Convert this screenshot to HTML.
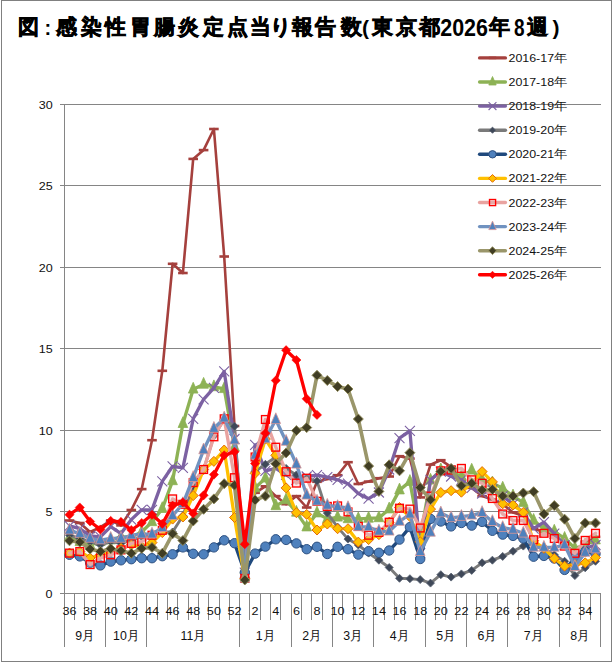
<!DOCTYPE html><html><head><meta charset="utf-8"><style>html,body{margin:0;padding:0;background:#fff;width:612px;height:662px;overflow:hidden}svg{display:block}text{font-family:"Liberation Sans",sans-serif}</style></head><body>
<svg width="612" height="662" viewBox="0 0 612 662">
<rect x="0" y="0" width="612" height="662" fill="#fff"/>
<rect x="1.5" y="0.5" width="610" height="661" fill="none" stroke="#808080" stroke-width="1"/>
<text x="28.0" y="34.3" font-size="20.5" font-weight="bold" text-anchor="middle" fill="#000" stroke="#000" stroke-width="0.7">図</text>
<text x="47.8" y="34.6" font-size="20" font-weight="bold" text-anchor="middle" fill="#000">:</text>
<text x="66.5" y="34.3" font-size="20.5" font-weight="bold" text-anchor="middle" fill="#000" stroke="#000" stroke-width="0.7">感</text>
<text x="91.4" y="34.3" font-size="20.5" font-weight="bold" text-anchor="middle" fill="#000" stroke="#000" stroke-width="0.7">染</text>
<text x="115.3" y="34.3" font-size="20.5" font-weight="bold" text-anchor="middle" fill="#000" stroke="#000" stroke-width="0.7">性</text>
<text x="140.4" y="34.3" font-size="20.5" font-weight="bold" text-anchor="middle" fill="#000" stroke="#000" stroke-width="0.7">胃</text>
<text x="164.6" y="34.3" font-size="20.5" font-weight="bold" text-anchor="middle" fill="#000" stroke="#000" stroke-width="0.7">腸</text>
<text x="188.4" y="34.3" font-size="20.5" font-weight="bold" text-anchor="middle" fill="#000" stroke="#000" stroke-width="0.7">炎</text>
<text x="213.0" y="34.3" font-size="20.5" font-weight="bold" text-anchor="middle" fill="#000" stroke="#000" stroke-width="0.7">定</text>
<text x="237.5" y="34.3" font-size="20.5" font-weight="bold" text-anchor="middle" fill="#000" stroke="#000" stroke-width="0.7">点</text>
<text x="260.4" y="34.3" font-size="20.5" font-weight="bold" text-anchor="middle" fill="#000" stroke="#000" stroke-width="0.7">当</text>
<text x="280.6" y="34.3" font-size="20.5" font-weight="bold" text-anchor="middle" fill="#000" stroke="#000" stroke-width="0.7">り</text>
<text x="302.4" y="34.3" font-size="20.5" font-weight="bold" text-anchor="middle" fill="#000" stroke="#000" stroke-width="0.7">報</text>
<text x="325.9" y="34.3" font-size="20.5" font-weight="bold" text-anchor="middle" fill="#000" stroke="#000" stroke-width="0.7">告</text>
<text x="351.9" y="34.3" font-size="20.5" font-weight="bold" text-anchor="middle" fill="#000" stroke="#000" stroke-width="0.7">数</text>
<text x="365.5" y="34.5" font-size="21" font-weight="bold" text-anchor="middle" fill="#000">(</text>
<text x="382.3" y="34.3" font-size="20.5" font-weight="bold" text-anchor="middle" fill="#000" stroke="#000" stroke-width="0.7">東</text>
<text x="406.4" y="34.3" font-size="20.5" font-weight="bold" text-anchor="middle" fill="#000" stroke="#000" stroke-width="0.7">京</text>
<text x="429.1" y="34.3" font-size="20.5" font-weight="bold" text-anchor="middle" fill="#000" stroke="#000" stroke-width="0.7">都</text>
<text x="464.1" y="35.6" font-size="24" font-weight="bold" text-anchor="middle" textLength="47.7" lengthAdjust="spacingAndGlyphs" fill="#000">2026</text>
<text x="499.0" y="34.3" font-size="20.5" font-weight="bold" text-anchor="middle" fill="#000" stroke="#000" stroke-width="0.7">年</text>
<text x="519.2" y="35.6" font-size="24" font-weight="bold" text-anchor="middle" textLength="10.6" lengthAdjust="spacingAndGlyphs" fill="#000">8</text>
<text x="537.5" y="34.3" font-size="20.5" font-weight="bold" text-anchor="middle" fill="#000" stroke="#000" stroke-width="0.7">週</text>
<text x="555.9" y="34.5" font-size="21" font-weight="bold" text-anchor="middle" fill="#000">)</text>
<line x1="64.0" y1="511.5" x2="601.0" y2="511.5" stroke="#858585" stroke-width="1"/>
<line x1="64.0" y1="430.5" x2="601.0" y2="430.5" stroke="#858585" stroke-width="1"/>
<line x1="64.0" y1="348.5" x2="601.0" y2="348.5" stroke="#858585" stroke-width="1"/>
<line x1="64.0" y1="267.5" x2="601.0" y2="267.5" stroke="#858585" stroke-width="1"/>
<line x1="64.0" y1="185.5" x2="601.0" y2="185.5" stroke="#858585" stroke-width="1"/>
<line x1="64.0" y1="104.5" x2="601.0" y2="104.5" stroke="#858585" stroke-width="1"/>
<line x1="64.5" y1="104.5" x2="64.5" y2="594.0" stroke="#858585" stroke-width="1"/>
<line x1="60" y1="593.5" x2="64.5" y2="593.5" stroke="#858585" stroke-width="1"/>
<text transform="translate(52.6,597.8) scale(1.14,1)" x="0" y="0" font-size="11" text-anchor="end" fill="#111">0</text>
<line x1="60" y1="511.5" x2="64.5" y2="511.5" stroke="#858585" stroke-width="1"/>
<text transform="translate(52.6,515.8) scale(1.14,1)" x="0" y="0" font-size="11" text-anchor="end" fill="#111">5</text>
<line x1="60" y1="430.5" x2="64.5" y2="430.5" stroke="#858585" stroke-width="1"/>
<text transform="translate(52.6,434.8) scale(1.14,1)" x="0" y="0" font-size="11" text-anchor="end" fill="#111">10</text>
<line x1="60" y1="348.5" x2="64.5" y2="348.5" stroke="#858585" stroke-width="1"/>
<text transform="translate(52.6,352.8) scale(1.14,1)" x="0" y="0" font-size="11" text-anchor="end" fill="#111">15</text>
<line x1="60" y1="267.5" x2="64.5" y2="267.5" stroke="#858585" stroke-width="1"/>
<text transform="translate(52.6,271.8) scale(1.14,1)" x="0" y="0" font-size="11" text-anchor="end" fill="#111">20</text>
<line x1="60" y1="185.5" x2="64.5" y2="185.5" stroke="#858585" stroke-width="1"/>
<text transform="translate(52.6,189.8) scale(1.14,1)" x="0" y="0" font-size="11" text-anchor="end" fill="#111">25</text>
<line x1="60" y1="104.5" x2="64.5" y2="104.5" stroke="#858585" stroke-width="1"/>
<text transform="translate(52.6,108.8) scale(1.14,1)" x="0" y="0" font-size="11" text-anchor="end" fill="#111">30</text>
<line x1="64.0" y1="593.5" x2="601.0" y2="593.5" stroke="#858585" stroke-width="1"/>
<line x1="64.5" y1="593.5" x2="64.5" y2="647" stroke="#858585" stroke-width="1"/>
<line x1="74.5" y1="593.5" x2="74.5" y2="620" stroke="#858585" stroke-width="1"/>
<line x1="84.5" y1="593.5" x2="84.5" y2="620" stroke="#858585" stroke-width="1"/>
<line x1="95.5" y1="593.5" x2="95.5" y2="620" stroke="#858585" stroke-width="1"/>
<line x1="105.5" y1="593.5" x2="105.5" y2="647" stroke="#858585" stroke-width="1"/>
<line x1="115.5" y1="593.5" x2="115.5" y2="620" stroke="#858585" stroke-width="1"/>
<line x1="126.5" y1="593.5" x2="126.5" y2="620" stroke="#858585" stroke-width="1"/>
<line x1="136.5" y1="593.5" x2="136.5" y2="620" stroke="#858585" stroke-width="1"/>
<line x1="146.5" y1="593.5" x2="146.5" y2="647" stroke="#858585" stroke-width="1"/>
<line x1="157.5" y1="593.5" x2="157.5" y2="620" stroke="#858585" stroke-width="1"/>
<line x1="167.5" y1="593.5" x2="167.5" y2="620" stroke="#858585" stroke-width="1"/>
<line x1="177.5" y1="593.5" x2="177.5" y2="620" stroke="#858585" stroke-width="1"/>
<line x1="188.5" y1="593.5" x2="188.5" y2="620" stroke="#858585" stroke-width="1"/>
<line x1="198.5" y1="593.5" x2="198.5" y2="620" stroke="#858585" stroke-width="1"/>
<line x1="208.5" y1="593.5" x2="208.5" y2="620" stroke="#858585" stroke-width="1"/>
<line x1="219.5" y1="593.5" x2="219.5" y2="620" stroke="#858585" stroke-width="1"/>
<line x1="229.5" y1="593.5" x2="229.5" y2="620" stroke="#858585" stroke-width="1"/>
<line x1="239.5" y1="593.5" x2="239.5" y2="647" stroke="#858585" stroke-width="1"/>
<line x1="249.5" y1="593.5" x2="249.5" y2="620" stroke="#858585" stroke-width="1"/>
<line x1="260.5" y1="593.5" x2="260.5" y2="620" stroke="#858585" stroke-width="1"/>
<line x1="270.5" y1="593.5" x2="270.5" y2="620" stroke="#858585" stroke-width="1"/>
<line x1="280.5" y1="593.5" x2="280.5" y2="620" stroke="#858585" stroke-width="1"/>
<line x1="291.5" y1="593.5" x2="291.5" y2="647" stroke="#858585" stroke-width="1"/>
<line x1="301.5" y1="593.5" x2="301.5" y2="620" stroke="#858585" stroke-width="1"/>
<line x1="311.5" y1="593.5" x2="311.5" y2="620" stroke="#858585" stroke-width="1"/>
<line x1="322.5" y1="593.5" x2="322.5" y2="620" stroke="#858585" stroke-width="1"/>
<line x1="332.5" y1="593.5" x2="332.5" y2="647" stroke="#858585" stroke-width="1"/>
<line x1="342.5" y1="593.5" x2="342.5" y2="620" stroke="#858585" stroke-width="1"/>
<line x1="353.5" y1="593.5" x2="353.5" y2="620" stroke="#858585" stroke-width="1"/>
<line x1="363.5" y1="593.5" x2="363.5" y2="620" stroke="#858585" stroke-width="1"/>
<line x1="373.5" y1="593.5" x2="373.5" y2="647" stroke="#858585" stroke-width="1"/>
<line x1="384.5" y1="593.5" x2="384.5" y2="620" stroke="#858585" stroke-width="1"/>
<line x1="394.5" y1="593.5" x2="394.5" y2="620" stroke="#858585" stroke-width="1"/>
<line x1="404.5" y1="593.5" x2="404.5" y2="620" stroke="#858585" stroke-width="1"/>
<line x1="415.5" y1="593.5" x2="415.5" y2="620" stroke="#858585" stroke-width="1"/>
<line x1="425.5" y1="593.5" x2="425.5" y2="647" stroke="#858585" stroke-width="1"/>
<line x1="435.5" y1="593.5" x2="435.5" y2="620" stroke="#858585" stroke-width="1"/>
<line x1="445.5" y1="593.5" x2="445.5" y2="620" stroke="#858585" stroke-width="1"/>
<line x1="456.5" y1="593.5" x2="456.5" y2="620" stroke="#858585" stroke-width="1"/>
<line x1="466.5" y1="593.5" x2="466.5" y2="647" stroke="#858585" stroke-width="1"/>
<line x1="476.5" y1="593.5" x2="476.5" y2="620" stroke="#858585" stroke-width="1"/>
<line x1="487.5" y1="593.5" x2="487.5" y2="620" stroke="#858585" stroke-width="1"/>
<line x1="497.5" y1="593.5" x2="497.5" y2="620" stroke="#858585" stroke-width="1"/>
<line x1="507.5" y1="593.5" x2="507.5" y2="647" stroke="#858585" stroke-width="1"/>
<line x1="518.5" y1="593.5" x2="518.5" y2="620" stroke="#858585" stroke-width="1"/>
<line x1="528.5" y1="593.5" x2="528.5" y2="620" stroke="#858585" stroke-width="1"/>
<line x1="538.5" y1="593.5" x2="538.5" y2="620" stroke="#858585" stroke-width="1"/>
<line x1="549.5" y1="593.5" x2="549.5" y2="620" stroke="#858585" stroke-width="1"/>
<line x1="559.5" y1="593.5" x2="559.5" y2="647" stroke="#858585" stroke-width="1"/>
<line x1="569.5" y1="593.5" x2="569.5" y2="620" stroke="#858585" stroke-width="1"/>
<line x1="580.5" y1="593.5" x2="580.5" y2="620" stroke="#858585" stroke-width="1"/>
<line x1="590.5" y1="593.5" x2="590.5" y2="620" stroke="#858585" stroke-width="1"/>
<line x1="600.5" y1="593.5" x2="600.5" y2="647" stroke="#858585" stroke-width="1"/>
<text transform="translate(69.5,615.0) scale(1.12,1)" x="0" y="0" font-size="11.3" text-anchor="middle" fill="#111">36</text>
<text transform="translate(90.1,615.0) scale(1.12,1)" x="0" y="0" font-size="11.3" text-anchor="middle" fill="#111">38</text>
<text transform="translate(110.7,615.0) scale(1.12,1)" x="0" y="0" font-size="11.3" text-anchor="middle" fill="#111">40</text>
<text transform="translate(131.3,615.0) scale(1.12,1)" x="0" y="0" font-size="11.3" text-anchor="middle" fill="#111">42</text>
<text transform="translate(152.0,615.0) scale(1.12,1)" x="0" y="0" font-size="11.3" text-anchor="middle" fill="#111">44</text>
<text transform="translate(172.6,615.0) scale(1.12,1)" x="0" y="0" font-size="11.3" text-anchor="middle" fill="#111">46</text>
<text transform="translate(193.2,615.0) scale(1.12,1)" x="0" y="0" font-size="11.3" text-anchor="middle" fill="#111">48</text>
<text transform="translate(213.9,615.0) scale(1.12,1)" x="0" y="0" font-size="11.3" text-anchor="middle" fill="#111">50</text>
<text transform="translate(234.5,615.0) scale(1.12,1)" x="0" y="0" font-size="11.3" text-anchor="middle" fill="#111">52</text>
<text transform="translate(255.1,615.0) scale(1.12,1)" x="0" y="0" font-size="11.3" text-anchor="middle" fill="#111">2</text>
<text transform="translate(275.8,615.0) scale(1.12,1)" x="0" y="0" font-size="11.3" text-anchor="middle" fill="#111">4</text>
<text transform="translate(296.4,615.0) scale(1.12,1)" x="0" y="0" font-size="11.3" text-anchor="middle" fill="#111">6</text>
<text transform="translate(317.0,615.0) scale(1.12,1)" x="0" y="0" font-size="11.3" text-anchor="middle" fill="#111">8</text>
<text transform="translate(337.6,615.0) scale(1.12,1)" x="0" y="0" font-size="11.3" text-anchor="middle" fill="#111">10</text>
<text transform="translate(358.3,615.0) scale(1.12,1)" x="0" y="0" font-size="11.3" text-anchor="middle" fill="#111">12</text>
<text transform="translate(378.9,615.0) scale(1.12,1)" x="0" y="0" font-size="11.3" text-anchor="middle" fill="#111">14</text>
<text transform="translate(399.5,615.0) scale(1.12,1)" x="0" y="0" font-size="11.3" text-anchor="middle" fill="#111">16</text>
<text transform="translate(420.2,615.0) scale(1.12,1)" x="0" y="0" font-size="11.3" text-anchor="middle" fill="#111">18</text>
<text transform="translate(440.8,615.0) scale(1.12,1)" x="0" y="0" font-size="11.3" text-anchor="middle" fill="#111">20</text>
<text transform="translate(461.4,615.0) scale(1.12,1)" x="0" y="0" font-size="11.3" text-anchor="middle" fill="#111">22</text>
<text transform="translate(482.1,615.0) scale(1.12,1)" x="0" y="0" font-size="11.3" text-anchor="middle" fill="#111">24</text>
<text transform="translate(502.7,615.0) scale(1.12,1)" x="0" y="0" font-size="11.3" text-anchor="middle" fill="#111">26</text>
<text transform="translate(523.3,615.0) scale(1.12,1)" x="0" y="0" font-size="11.3" text-anchor="middle" fill="#111">28</text>
<text transform="translate(543.9,615.0) scale(1.12,1)" x="0" y="0" font-size="11.3" text-anchor="middle" fill="#111">30</text>
<text transform="translate(564.6,615.0) scale(1.12,1)" x="0" y="0" font-size="11.3" text-anchor="middle" fill="#111">32</text>
<text transform="translate(585.2,615.0) scale(1.12,1)" x="0" y="0" font-size="11.3" text-anchor="middle" fill="#111">34</text>
<text transform="translate(84.9,640.2) scale(0.95,1)" x="0" y="0" font-size="13" text-anchor="middle" fill="#111">9月</text>
<text transform="translate(126.2,640.2) scale(0.95,1)" x="0" y="0" font-size="13" text-anchor="middle" fill="#111">10月</text>
<text transform="translate(193.2,640.2) scale(0.95,1)" x="0" y="0" font-size="13" text-anchor="middle" fill="#111">11月</text>
<text transform="translate(265.4,640.2) scale(0.95,1)" x="0" y="0" font-size="13" text-anchor="middle" fill="#111">1月</text>
<text transform="translate(311.9,640.2) scale(0.95,1)" x="0" y="0" font-size="13" text-anchor="middle" fill="#111">2月</text>
<text transform="translate(353.1,640.2) scale(0.95,1)" x="0" y="0" font-size="13" text-anchor="middle" fill="#111">3月</text>
<text transform="translate(399.5,640.2) scale(0.95,1)" x="0" y="0" font-size="13" text-anchor="middle" fill="#111">4月</text>
<text transform="translate(446.0,640.2) scale(0.95,1)" x="0" y="0" font-size="13" text-anchor="middle" fill="#111">5月</text>
<text transform="translate(487.2,640.2) scale(0.95,1)" x="0" y="0" font-size="13" text-anchor="middle" fill="#111">6月</text>
<text transform="translate(533.6,640.2) scale(0.95,1)" x="0" y="0" font-size="13" text-anchor="middle" fill="#111">7月</text>
<text transform="translate(580.0,640.2) scale(0.95,1)" x="0" y="0" font-size="13" text-anchor="middle" fill="#111">8月</text>
<polyline points="69.5,520.5 79.8,523.0 90.1,532.0 100.4,527.1 110.7,520.5 121.0,525.4 131.3,510.0 141.7,489.1 152.0,440.2 162.3,370.8 172.6,263.8 182.9,273.0 193.2,158.9 203.6,150.1 213.9,129.0 224.2,256.5 234.5,426.0 244.8,572.7 255.1,492.8 265.4,486.3 275.8,496.1 286.1,504.2 296.4,496.1 306.7,507.5 317.0,481.8 327.3,479.0 337.6,475.2 348.0,462.2 358.3,484.0 368.6,481.6 378.9,478.2 389.2,476.5 399.5,456.2 409.9,458.6 420.2,497.4 430.5,464.6 440.8,460.2 451.1,466.8 461.4,479.8 471.7,487.9 482.1,496.1 492.4,499.4 502.7,504.2 513.0,512.4 523.3,515.7 533.6,528.7 543.9,532.0 554.3,535.2 564.6,545.0 574.9,551.5 585.2,541.7 595.5,536.9" fill="none" stroke="#A5403D" stroke-width="2.6" stroke-linejoin="round" stroke-linecap="round"/>
<line x1="64.7" y1="520.5" x2="74.3" y2="520.5" stroke="#A5403D" stroke-width="2.6"/>
<line x1="75.0" y1="523.0" x2="84.6" y2="523.0" stroke="#A5403D" stroke-width="2.6"/>
<line x1="85.3" y1="532.0" x2="94.9" y2="532.0" stroke="#A5403D" stroke-width="2.6"/>
<line x1="95.6" y1="527.1" x2="105.2" y2="527.1" stroke="#A5403D" stroke-width="2.6"/>
<line x1="105.9" y1="520.5" x2="115.5" y2="520.5" stroke="#A5403D" stroke-width="2.6"/>
<line x1="116.2" y1="525.4" x2="125.8" y2="525.4" stroke="#A5403D" stroke-width="2.6"/>
<line x1="126.5" y1="510.0" x2="136.1" y2="510.0" stroke="#A5403D" stroke-width="2.6"/>
<line x1="136.9" y1="489.1" x2="146.5" y2="489.1" stroke="#A5403D" stroke-width="2.6"/>
<line x1="147.2" y1="440.2" x2="156.8" y2="440.2" stroke="#A5403D" stroke-width="2.6"/>
<line x1="157.5" y1="370.8" x2="167.1" y2="370.8" stroke="#A5403D" stroke-width="2.6"/>
<line x1="167.8" y1="263.8" x2="177.4" y2="263.8" stroke="#A5403D" stroke-width="2.6"/>
<line x1="178.1" y1="273.0" x2="187.7" y2="273.0" stroke="#A5403D" stroke-width="2.6"/>
<line x1="188.4" y1="158.9" x2="198.0" y2="158.9" stroke="#A5403D" stroke-width="2.6"/>
<line x1="198.8" y1="150.1" x2="208.4" y2="150.1" stroke="#A5403D" stroke-width="2.6"/>
<line x1="209.1" y1="129.0" x2="218.7" y2="129.0" stroke="#A5403D" stroke-width="2.6"/>
<line x1="219.4" y1="256.5" x2="229.0" y2="256.5" stroke="#A5403D" stroke-width="2.6"/>
<line x1="229.7" y1="426.0" x2="239.3" y2="426.0" stroke="#A5403D" stroke-width="2.6"/>
<line x1="240.0" y1="572.7" x2="249.6" y2="572.7" stroke="#A5403D" stroke-width="2.6"/>
<line x1="250.3" y1="492.8" x2="259.9" y2="492.8" stroke="#A5403D" stroke-width="2.6"/>
<line x1="260.6" y1="486.3" x2="270.2" y2="486.3" stroke="#A5403D" stroke-width="2.6"/>
<line x1="271.0" y1="496.1" x2="280.6" y2="496.1" stroke="#A5403D" stroke-width="2.6"/>
<line x1="281.3" y1="504.2" x2="290.9" y2="504.2" stroke="#A5403D" stroke-width="2.6"/>
<line x1="291.6" y1="496.1" x2="301.2" y2="496.1" stroke="#A5403D" stroke-width="2.6"/>
<line x1="301.9" y1="507.5" x2="311.5" y2="507.5" stroke="#A5403D" stroke-width="2.6"/>
<line x1="312.2" y1="481.8" x2="321.8" y2="481.8" stroke="#A5403D" stroke-width="2.6"/>
<line x1="322.5" y1="479.0" x2="332.1" y2="479.0" stroke="#A5403D" stroke-width="2.6"/>
<line x1="332.8" y1="475.2" x2="342.4" y2="475.2" stroke="#A5403D" stroke-width="2.6"/>
<line x1="343.2" y1="462.2" x2="352.8" y2="462.2" stroke="#A5403D" stroke-width="2.6"/>
<line x1="353.5" y1="484.0" x2="363.1" y2="484.0" stroke="#A5403D" stroke-width="2.6"/>
<line x1="363.8" y1="481.6" x2="373.4" y2="481.6" stroke="#A5403D" stroke-width="2.6"/>
<line x1="374.1" y1="478.2" x2="383.7" y2="478.2" stroke="#A5403D" stroke-width="2.6"/>
<line x1="384.4" y1="476.5" x2="394.0" y2="476.5" stroke="#A5403D" stroke-width="2.6"/>
<line x1="394.7" y1="456.2" x2="404.3" y2="456.2" stroke="#A5403D" stroke-width="2.6"/>
<line x1="405.1" y1="458.6" x2="414.7" y2="458.6" stroke="#A5403D" stroke-width="2.6"/>
<line x1="415.4" y1="497.4" x2="425.0" y2="497.4" stroke="#A5403D" stroke-width="2.6"/>
<line x1="425.7" y1="464.6" x2="435.3" y2="464.6" stroke="#A5403D" stroke-width="2.6"/>
<line x1="436.0" y1="460.2" x2="445.6" y2="460.2" stroke="#A5403D" stroke-width="2.6"/>
<line x1="446.3" y1="466.8" x2="455.9" y2="466.8" stroke="#A5403D" stroke-width="2.6"/>
<line x1="456.6" y1="479.8" x2="466.2" y2="479.8" stroke="#A5403D" stroke-width="2.6"/>
<line x1="466.9" y1="487.9" x2="476.5" y2="487.9" stroke="#A5403D" stroke-width="2.6"/>
<line x1="477.3" y1="496.1" x2="486.9" y2="496.1" stroke="#A5403D" stroke-width="2.6"/>
<line x1="487.6" y1="499.4" x2="497.2" y2="499.4" stroke="#A5403D" stroke-width="2.6"/>
<line x1="497.9" y1="504.2" x2="507.5" y2="504.2" stroke="#A5403D" stroke-width="2.6"/>
<line x1="508.2" y1="512.4" x2="517.8" y2="512.4" stroke="#A5403D" stroke-width="2.6"/>
<line x1="518.5" y1="515.7" x2="528.1" y2="515.7" stroke="#A5403D" stroke-width="2.6"/>
<line x1="528.8" y1="528.7" x2="538.4" y2="528.7" stroke="#A5403D" stroke-width="2.6"/>
<line x1="539.1" y1="532.0" x2="548.7" y2="532.0" stroke="#A5403D" stroke-width="2.6"/>
<line x1="549.5" y1="535.2" x2="559.1" y2="535.2" stroke="#A5403D" stroke-width="2.6"/>
<line x1="559.8" y1="545.0" x2="569.4" y2="545.0" stroke="#A5403D" stroke-width="2.6"/>
<line x1="570.1" y1="551.5" x2="579.7" y2="551.5" stroke="#A5403D" stroke-width="2.6"/>
<line x1="580.4" y1="541.7" x2="590.0" y2="541.7" stroke="#A5403D" stroke-width="2.6"/>
<line x1="590.7" y1="536.9" x2="600.3" y2="536.9" stroke="#A5403D" stroke-width="2.6"/>
<polyline points="69.5,536.9 79.8,541.7 90.1,545.0 100.4,541.7 110.7,540.1 121.0,536.9 131.3,536.9 141.7,532.0 152.0,521.9 162.3,508.7 172.6,480.9 182.9,423.7 193.2,389.3 203.6,384.4 213.9,386.9 224.2,388.8 234.5,447.2 244.8,569.4 255.1,487.9 265.4,478.2 275.8,505.9 286.1,500.0 296.4,512.4 306.7,527.1 317.0,513.1 327.3,518.9 337.6,517.3 348.0,518.9 358.3,518.9 368.6,518.4 378.9,517.9 389.2,509.1 399.5,490.1 409.9,481.6 420.2,537.2 430.5,480.3 440.8,470.0 451.1,471.6 461.4,476.5 471.7,470.3 482.1,479.8 492.4,483.1 502.7,488.3 513.0,496.1 523.3,502.6 533.6,520.5 543.9,528.7 554.3,531.3 564.6,538.5 574.9,548.3 585.2,545.0 595.5,540.1" fill="none" stroke="#8DB255" stroke-width="3.3" stroke-linejoin="round" stroke-linecap="round"/>
<path d="M69.5,529.9L74.3,540.6L64.7,540.6Z" fill="#8DB255" stroke="#8DB255" stroke-width="0.8"/>
<path d="M79.8,534.7L84.6,545.5L75.0,545.5Z" fill="#8DB255" stroke="#8DB255" stroke-width="0.8"/>
<path d="M90.1,538.0L94.9,548.8L85.3,548.8Z" fill="#8DB255" stroke="#8DB255" stroke-width="0.8"/>
<path d="M100.4,534.7L105.2,545.5L95.6,545.5Z" fill="#8DB255" stroke="#8DB255" stroke-width="0.8"/>
<path d="M110.7,533.1L115.5,543.9L105.9,543.9Z" fill="#8DB255" stroke="#8DB255" stroke-width="0.8"/>
<path d="M121.0,529.9L125.8,540.6L116.2,540.6Z" fill="#8DB255" stroke="#8DB255" stroke-width="0.8"/>
<path d="M131.3,529.9L136.1,540.6L126.5,540.6Z" fill="#8DB255" stroke="#8DB255" stroke-width="0.8"/>
<path d="M141.7,525.0L146.5,535.8L136.9,535.8Z" fill="#8DB255" stroke="#8DB255" stroke-width="0.8"/>
<path d="M152.0,514.9L156.8,525.7L147.2,525.7Z" fill="#8DB255" stroke="#8DB255" stroke-width="0.8"/>
<path d="M162.3,501.7L167.1,512.5L157.5,512.5Z" fill="#8DB255" stroke="#8DB255" stroke-width="0.8"/>
<path d="M172.6,473.9L177.4,484.7L167.8,484.7Z" fill="#8DB255" stroke="#8DB255" stroke-width="0.8"/>
<path d="M182.9,416.7L187.7,427.5L178.1,427.5Z" fill="#8DB255" stroke="#8DB255" stroke-width="0.8"/>
<path d="M193.2,382.3L198.0,393.1L188.4,393.1Z" fill="#8DB255" stroke="#8DB255" stroke-width="0.8"/>
<path d="M203.6,377.4L208.4,388.2L198.8,388.2Z" fill="#8DB255" stroke="#8DB255" stroke-width="0.8"/>
<path d="M213.9,379.9L218.7,390.7L209.1,390.7Z" fill="#8DB255" stroke="#8DB255" stroke-width="0.8"/>
<path d="M224.2,381.8L229.0,392.6L219.4,392.6Z" fill="#8DB255" stroke="#8DB255" stroke-width="0.8"/>
<path d="M234.5,440.2L239.3,451.0L229.7,451.0Z" fill="#8DB255" stroke="#8DB255" stroke-width="0.8"/>
<path d="M244.8,562.4L249.6,573.2L240.0,573.2Z" fill="#8DB255" stroke="#8DB255" stroke-width="0.8"/>
<path d="M255.1,480.9L259.9,491.8L250.3,491.8Z" fill="#8DB255" stroke="#8DB255" stroke-width="0.8"/>
<path d="M265.4,471.2L270.2,482.0L260.6,482.0Z" fill="#8DB255" stroke="#8DB255" stroke-width="0.8"/>
<path d="M275.8,498.9L280.6,509.7L271.0,509.7Z" fill="#8DB255" stroke="#8DB255" stroke-width="0.8"/>
<path d="M286.1,493.0L290.9,503.8L281.3,503.8Z" fill="#8DB255" stroke="#8DB255" stroke-width="0.8"/>
<path d="M296.4,505.4L301.2,516.2L291.6,516.2Z" fill="#8DB255" stroke="#8DB255" stroke-width="0.8"/>
<path d="M306.7,520.1L311.5,530.9L301.9,530.9Z" fill="#8DB255" stroke="#8DB255" stroke-width="0.8"/>
<path d="M317.0,506.1L321.8,516.9L312.2,516.9Z" fill="#8DB255" stroke="#8DB255" stroke-width="0.8"/>
<path d="M327.3,511.9L332.1,522.7L322.5,522.7Z" fill="#8DB255" stroke="#8DB255" stroke-width="0.8"/>
<path d="M337.6,510.3L342.4,521.1L332.8,521.1Z" fill="#8DB255" stroke="#8DB255" stroke-width="0.8"/>
<path d="M348.0,511.9L352.8,522.7L343.2,522.7Z" fill="#8DB255" stroke="#8DB255" stroke-width="0.8"/>
<path d="M358.3,511.9L363.1,522.7L353.5,522.7Z" fill="#8DB255" stroke="#8DB255" stroke-width="0.8"/>
<path d="M368.6,511.4L373.4,522.2L363.8,522.2Z" fill="#8DB255" stroke="#8DB255" stroke-width="0.8"/>
<path d="M378.9,510.9L383.7,521.7L374.1,521.7Z" fill="#8DB255" stroke="#8DB255" stroke-width="0.8"/>
<path d="M389.2,502.1L394.0,512.9L384.4,512.9Z" fill="#8DB255" stroke="#8DB255" stroke-width="0.8"/>
<path d="M399.5,483.1L404.3,493.9L394.7,493.9Z" fill="#8DB255" stroke="#8DB255" stroke-width="0.8"/>
<path d="M409.9,474.6L414.7,485.4L405.1,485.4Z" fill="#8DB255" stroke="#8DB255" stroke-width="0.8"/>
<path d="M420.2,530.2L425.0,541.0L415.4,541.0Z" fill="#8DB255" stroke="#8DB255" stroke-width="0.8"/>
<path d="M430.5,473.3L435.3,484.1L425.7,484.1Z" fill="#8DB255" stroke="#8DB255" stroke-width="0.8"/>
<path d="M440.8,463.0L445.6,473.8L436.0,473.8Z" fill="#8DB255" stroke="#8DB255" stroke-width="0.8"/>
<path d="M451.1,464.6L455.9,475.4L446.3,475.4Z" fill="#8DB255" stroke="#8DB255" stroke-width="0.8"/>
<path d="M461.4,469.5L466.2,480.3L456.6,480.3Z" fill="#8DB255" stroke="#8DB255" stroke-width="0.8"/>
<path d="M471.7,463.3L476.5,474.1L466.9,474.1Z" fill="#8DB255" stroke="#8DB255" stroke-width="0.8"/>
<path d="M482.1,472.8L486.9,483.6L477.3,483.6Z" fill="#8DB255" stroke="#8DB255" stroke-width="0.8"/>
<path d="M492.4,476.1L497.2,486.9L487.6,486.9Z" fill="#8DB255" stroke="#8DB255" stroke-width="0.8"/>
<path d="M502.7,481.3L507.5,492.1L497.9,492.1Z" fill="#8DB255" stroke="#8DB255" stroke-width="0.8"/>
<path d="M513.0,489.1L517.8,499.9L508.2,499.9Z" fill="#8DB255" stroke="#8DB255" stroke-width="0.8"/>
<path d="M523.3,495.6L528.1,506.4L518.5,506.4Z" fill="#8DB255" stroke="#8DB255" stroke-width="0.8"/>
<path d="M533.6,513.5L538.4,524.3L528.8,524.3Z" fill="#8DB255" stroke="#8DB255" stroke-width="0.8"/>
<path d="M543.9,521.7L548.7,532.5L539.1,532.5Z" fill="#8DB255" stroke="#8DB255" stroke-width="0.8"/>
<path d="M554.3,524.3L559.1,535.1L549.5,535.1Z" fill="#8DB255" stroke="#8DB255" stroke-width="0.8"/>
<path d="M564.6,531.5L569.4,542.3L559.8,542.3Z" fill="#8DB255" stroke="#8DB255" stroke-width="0.8"/>
<path d="M574.9,541.3L579.7,552.1L570.1,552.1Z" fill="#8DB255" stroke="#8DB255" stroke-width="0.8"/>
<path d="M585.2,538.0L590.0,548.8L580.4,548.8Z" fill="#8DB255" stroke="#8DB255" stroke-width="0.8"/>
<path d="M595.5,533.1L600.3,543.9L590.7,543.9Z" fill="#8DB255" stroke="#8DB255" stroke-width="0.8"/>
<polyline points="69.5,525.8 79.8,528.7 90.1,536.0 100.4,536.9 110.7,526.6 121.0,533.6 131.3,519.6 141.7,509.8 152.0,509.8 162.3,481.4 172.6,466.3 182.9,467.9 193.2,418.8 203.6,399.3 213.9,387.9 224.2,371.4 234.5,439.0 244.8,572.7 255.1,444.8 265.4,470.8 275.8,468.4 286.1,474.9 296.4,479.8 306.7,476.5 317.0,475.2 327.3,477.2 337.6,479.8 348.0,483.7 358.3,493.5 368.6,498.7 378.9,492.5 389.2,469.5 399.5,438.1 409.9,430.9 420.2,553.1 430.5,479.8 440.8,471.6 451.1,476.5 461.4,479.8 471.7,487.9 482.1,493.5 492.4,489.6 502.7,496.1 513.0,504.2 523.3,512.4 533.6,528.7 543.9,522.2 554.3,533.6 564.6,545.0 574.9,556.4 585.2,548.3 595.5,545.0" fill="none" stroke="#7C61A2" stroke-width="3.3" stroke-linejoin="round" stroke-linecap="round"/>
<path d="M64.5,520.8L74.5,530.8M74.5,520.8L64.5,530.8" stroke="#7C61A2" stroke-width="1.1" fill="none"/>
<path d="M74.8,523.7L84.8,533.7M84.8,523.7L74.8,533.7" stroke="#7C61A2" stroke-width="1.1" fill="none"/>
<path d="M85.1,531.0L95.1,541.0M95.1,531.0L85.1,541.0" stroke="#7C61A2" stroke-width="1.1" fill="none"/>
<path d="M95.4,531.9L105.4,541.9M105.4,531.9L95.4,541.9" stroke="#7C61A2" stroke-width="1.1" fill="none"/>
<path d="M105.7,521.6L115.7,531.6M115.7,521.6L105.7,531.6" stroke="#7C61A2" stroke-width="1.1" fill="none"/>
<path d="M116.0,528.6L126.0,538.6M126.0,528.6L116.0,538.6" stroke="#7C61A2" stroke-width="1.1" fill="none"/>
<path d="M126.3,514.6L136.3,524.6M136.3,514.6L126.3,524.6" stroke="#7C61A2" stroke-width="1.1" fill="none"/>
<path d="M136.7,504.8L146.7,514.8M146.7,504.8L136.7,514.8" stroke="#7C61A2" stroke-width="1.1" fill="none"/>
<path d="M147.0,504.8L157.0,514.8M157.0,504.8L147.0,514.8" stroke="#7C61A2" stroke-width="1.1" fill="none"/>
<path d="M157.3,476.4L167.3,486.4M167.3,476.4L157.3,486.4" stroke="#7C61A2" stroke-width="1.1" fill="none"/>
<path d="M167.6,461.3L177.6,471.3M177.6,461.3L167.6,471.3" stroke="#7C61A2" stroke-width="1.1" fill="none"/>
<path d="M177.9,462.9L187.9,472.9M187.9,462.9L177.9,472.9" stroke="#7C61A2" stroke-width="1.1" fill="none"/>
<path d="M188.2,413.8L198.2,423.8M198.2,413.8L188.2,423.8" stroke="#7C61A2" stroke-width="1.1" fill="none"/>
<path d="M198.6,394.3L208.6,404.3M208.6,394.3L198.6,404.3" stroke="#7C61A2" stroke-width="1.1" fill="none"/>
<path d="M208.9,382.9L218.9,392.9M218.9,382.9L208.9,392.9" stroke="#7C61A2" stroke-width="1.1" fill="none"/>
<path d="M219.2,366.4L229.2,376.4M229.2,366.4L219.2,376.4" stroke="#7C61A2" stroke-width="1.1" fill="none"/>
<path d="M229.5,434.0L239.5,444.0M239.5,434.0L229.5,444.0" stroke="#7C61A2" stroke-width="1.1" fill="none"/>
<path d="M239.8,567.7L249.8,577.7M249.8,567.7L239.8,577.7" stroke="#7C61A2" stroke-width="1.1" fill="none"/>
<path d="M250.1,439.8L260.1,449.8M260.1,439.8L250.1,449.8" stroke="#7C61A2" stroke-width="1.1" fill="none"/>
<path d="M260.4,465.8L270.4,475.8M270.4,465.8L260.4,475.8" stroke="#7C61A2" stroke-width="1.1" fill="none"/>
<path d="M270.8,463.4L280.8,473.4M280.8,463.4L270.8,473.4" stroke="#7C61A2" stroke-width="1.1" fill="none"/>
<path d="M281.1,469.9L291.1,479.9M291.1,469.9L281.1,479.9" stroke="#7C61A2" stroke-width="1.1" fill="none"/>
<path d="M291.4,474.8L301.4,484.8M301.4,474.8L291.4,484.8" stroke="#7C61A2" stroke-width="1.1" fill="none"/>
<path d="M301.7,471.5L311.7,481.5M311.7,471.5L301.7,481.5" stroke="#7C61A2" stroke-width="1.1" fill="none"/>
<path d="M312.0,470.2L322.0,480.2M322.0,470.2L312.0,480.2" stroke="#7C61A2" stroke-width="1.1" fill="none"/>
<path d="M322.3,472.2L332.3,482.2M332.3,472.2L322.3,482.2" stroke="#7C61A2" stroke-width="1.1" fill="none"/>
<path d="M332.6,474.8L342.6,484.8M342.6,474.8L332.6,484.8" stroke="#7C61A2" stroke-width="1.1" fill="none"/>
<path d="M343.0,478.7L353.0,488.7M353.0,478.7L343.0,488.7" stroke="#7C61A2" stroke-width="1.1" fill="none"/>
<path d="M353.3,488.5L363.3,498.5M363.3,488.5L353.3,498.5" stroke="#7C61A2" stroke-width="1.1" fill="none"/>
<path d="M363.6,493.7L373.6,503.7M373.6,493.7L363.6,503.7" stroke="#7C61A2" stroke-width="1.1" fill="none"/>
<path d="M373.9,487.5L383.9,497.5M383.9,487.5L373.9,497.5" stroke="#7C61A2" stroke-width="1.1" fill="none"/>
<path d="M384.2,464.5L394.2,474.5M394.2,464.5L384.2,474.5" stroke="#7C61A2" stroke-width="1.1" fill="none"/>
<path d="M394.5,433.1L404.5,443.1M404.5,433.1L394.5,443.1" stroke="#7C61A2" stroke-width="1.1" fill="none"/>
<path d="M404.9,425.9L414.9,435.9M414.9,425.9L404.9,435.9" stroke="#7C61A2" stroke-width="1.1" fill="none"/>
<path d="M415.2,548.1L425.2,558.1M425.2,548.1L415.2,558.1" stroke="#7C61A2" stroke-width="1.1" fill="none"/>
<path d="M425.5,474.8L435.5,484.8M435.5,474.8L425.5,484.8" stroke="#7C61A2" stroke-width="1.1" fill="none"/>
<path d="M435.8,466.6L445.8,476.6M445.8,466.6L435.8,476.6" stroke="#7C61A2" stroke-width="1.1" fill="none"/>
<path d="M446.1,471.5L456.1,481.5M456.1,471.5L446.1,481.5" stroke="#7C61A2" stroke-width="1.1" fill="none"/>
<path d="M456.4,474.8L466.4,484.8M466.4,474.8L456.4,484.8" stroke="#7C61A2" stroke-width="1.1" fill="none"/>
<path d="M466.7,482.9L476.7,492.9M476.7,482.9L466.7,492.9" stroke="#7C61A2" stroke-width="1.1" fill="none"/>
<path d="M477.1,488.5L487.1,498.5M487.1,488.5L477.1,498.5" stroke="#7C61A2" stroke-width="1.1" fill="none"/>
<path d="M487.4,484.6L497.4,494.6M497.4,484.6L487.4,494.6" stroke="#7C61A2" stroke-width="1.1" fill="none"/>
<path d="M497.7,491.1L507.7,501.1M507.7,491.1L497.7,501.1" stroke="#7C61A2" stroke-width="1.1" fill="none"/>
<path d="M508.0,499.2L518.0,509.2M518.0,499.2L508.0,509.2" stroke="#7C61A2" stroke-width="1.1" fill="none"/>
<path d="M518.3,507.4L528.3,517.4M528.3,507.4L518.3,517.4" stroke="#7C61A2" stroke-width="1.1" fill="none"/>
<path d="M528.6,523.7L538.6,533.7M538.6,523.7L528.6,533.7" stroke="#7C61A2" stroke-width="1.1" fill="none"/>
<path d="M538.9,517.2L548.9,527.2M548.9,517.2L538.9,527.2" stroke="#7C61A2" stroke-width="1.1" fill="none"/>
<path d="M549.3,528.6L559.3,538.6M559.3,528.6L549.3,538.6" stroke="#7C61A2" stroke-width="1.1" fill="none"/>
<path d="M559.6,540.0L569.6,550.0M569.6,540.0L559.6,550.0" stroke="#7C61A2" stroke-width="1.1" fill="none"/>
<path d="M569.9,551.4L579.9,561.4M579.9,551.4L569.9,561.4" stroke="#7C61A2" stroke-width="1.1" fill="none"/>
<path d="M580.2,543.3L590.2,553.3M590.2,543.3L580.2,553.3" stroke="#7C61A2" stroke-width="1.1" fill="none"/>
<path d="M590.5,540.0L600.5,550.0M600.5,540.0L590.5,550.0" stroke="#7C61A2" stroke-width="1.1" fill="none"/>
<polyline points="69.5,535.2 79.8,538.5 90.1,541.7 100.4,545.0 110.7,541.7 121.0,543.4 131.3,540.1 141.7,536.9 152.0,535.2 162.3,532.0 172.6,532.0 182.9,515.7 193.2,486.3 203.6,470.0 213.9,435.8 224.2,419.5 234.5,426.3 244.8,572.7 255.1,471.6 265.4,464.3 275.8,457.0 286.1,468.4 296.4,474.9 306.7,478.2 317.0,481.1 327.3,513.1 337.6,527.1 348.0,539.1 358.3,545.0 368.6,553.1 378.9,560.2 389.2,567.5 399.5,578.3 409.9,578.7 420.2,579.6 430.5,583.1 440.8,574.7 451.1,577.1 461.4,573.9 471.7,570.4 482.1,562.8 492.4,560.2 502.7,556.4 513.0,551.2 523.3,546.1 533.6,543.4 543.9,548.3 554.3,554.8 564.6,561.3 574.9,575.6 585.2,567.8 595.5,561.3" fill="none" stroke="#7A7A7A" stroke-width="2.9" stroke-linejoin="round" stroke-linecap="round"/>
<path d="M69.5,531.2L73.5,535.2L69.5,539.2L65.5,535.2Z" fill="#3F4858" stroke="#566070" stroke-width="0.8"/>
<path d="M79.8,534.5L83.8,538.5L79.8,542.5L75.8,538.5Z" fill="#3F4858" stroke="#566070" stroke-width="0.8"/>
<path d="M90.1,537.7L94.1,541.7L90.1,545.7L86.1,541.7Z" fill="#3F4858" stroke="#566070" stroke-width="0.8"/>
<path d="M100.4,541.0L104.4,545.0L100.4,549.0L96.4,545.0Z" fill="#3F4858" stroke="#566070" stroke-width="0.8"/>
<path d="M110.7,537.7L114.7,541.7L110.7,545.7L106.7,541.7Z" fill="#3F4858" stroke="#566070" stroke-width="0.8"/>
<path d="M121.0,539.4L125.0,543.4L121.0,547.4L117.0,543.4Z" fill="#3F4858" stroke="#566070" stroke-width="0.8"/>
<path d="M131.3,536.1L135.3,540.1L131.3,544.1L127.3,540.1Z" fill="#3F4858" stroke="#566070" stroke-width="0.8"/>
<path d="M141.7,532.9L145.7,536.9L141.7,540.9L137.7,536.9Z" fill="#3F4858" stroke="#566070" stroke-width="0.8"/>
<path d="M152.0,531.2L156.0,535.2L152.0,539.2L148.0,535.2Z" fill="#3F4858" stroke="#566070" stroke-width="0.8"/>
<path d="M162.3,528.0L166.3,532.0L162.3,536.0L158.3,532.0Z" fill="#3F4858" stroke="#566070" stroke-width="0.8"/>
<path d="M172.6,528.0L176.6,532.0L172.6,536.0L168.6,532.0Z" fill="#3F4858" stroke="#566070" stroke-width="0.8"/>
<path d="M182.9,511.7L186.9,515.7L182.9,519.7L178.9,515.7Z" fill="#3F4858" stroke="#566070" stroke-width="0.8"/>
<path d="M193.2,482.3L197.2,486.3L193.2,490.3L189.2,486.3Z" fill="#3F4858" stroke="#566070" stroke-width="0.8"/>
<path d="M203.6,466.0L207.6,470.0L203.6,474.0L199.6,470.0Z" fill="#3F4858" stroke="#566070" stroke-width="0.8"/>
<path d="M213.9,431.8L217.9,435.8L213.9,439.8L209.9,435.8Z" fill="#3F4858" stroke="#566070" stroke-width="0.8"/>
<path d="M224.2,415.5L228.2,419.5L224.2,423.5L220.2,419.5Z" fill="#3F4858" stroke="#566070" stroke-width="0.8"/>
<path d="M234.5,422.3L238.5,426.3L234.5,430.3L230.5,426.3Z" fill="#3F4858" stroke="#566070" stroke-width="0.8"/>
<path d="M244.8,568.7L248.8,572.7L244.8,576.7L240.8,572.7Z" fill="#3F4858" stroke="#566070" stroke-width="0.8"/>
<path d="M255.1,467.6L259.1,471.6L255.1,475.6L251.1,471.6Z" fill="#3F4858" stroke="#566070" stroke-width="0.8"/>
<path d="M265.4,460.3L269.4,464.3L265.4,468.3L261.4,464.3Z" fill="#3F4858" stroke="#566070" stroke-width="0.8"/>
<path d="M275.8,453.0L279.8,457.0L275.8,461.0L271.8,457.0Z" fill="#3F4858" stroke="#566070" stroke-width="0.8"/>
<path d="M286.1,464.4L290.1,468.4L286.1,472.4L282.1,468.4Z" fill="#3F4858" stroke="#566070" stroke-width="0.8"/>
<path d="M296.4,470.9L300.4,474.9L296.4,478.9L292.4,474.9Z" fill="#3F4858" stroke="#566070" stroke-width="0.8"/>
<path d="M306.7,474.2L310.7,478.2L306.7,482.2L302.7,478.2Z" fill="#3F4858" stroke="#566070" stroke-width="0.8"/>
<path d="M317.0,477.1L321.0,481.1L317.0,485.1L313.0,481.1Z" fill="#3F4858" stroke="#566070" stroke-width="0.8"/>
<path d="M327.3,509.1L331.3,513.1L327.3,517.1L323.3,513.1Z" fill="#3F4858" stroke="#566070" stroke-width="0.8"/>
<path d="M337.6,523.1L341.6,527.1L337.6,531.1L333.6,527.1Z" fill="#3F4858" stroke="#566070" stroke-width="0.8"/>
<path d="M348.0,535.1L352.0,539.1L348.0,543.1L344.0,539.1Z" fill="#3F4858" stroke="#566070" stroke-width="0.8"/>
<path d="M358.3,541.0L362.3,545.0L358.3,549.0L354.3,545.0Z" fill="#3F4858" stroke="#566070" stroke-width="0.8"/>
<path d="M368.6,549.1L372.6,553.1L368.6,557.1L364.6,553.1Z" fill="#3F4858" stroke="#566070" stroke-width="0.8"/>
<path d="M378.9,556.2L382.9,560.2L378.9,564.2L374.9,560.2Z" fill="#3F4858" stroke="#566070" stroke-width="0.8"/>
<path d="M389.2,563.5L393.2,567.5L389.2,571.5L385.2,567.5Z" fill="#3F4858" stroke="#566070" stroke-width="0.8"/>
<path d="M399.5,574.3L403.5,578.3L399.5,582.3L395.5,578.3Z" fill="#3F4858" stroke="#566070" stroke-width="0.8"/>
<path d="M409.9,574.7L413.9,578.7L409.9,582.7L405.9,578.7Z" fill="#3F4858" stroke="#566070" stroke-width="0.8"/>
<path d="M420.2,575.6L424.2,579.6L420.2,583.6L416.2,579.6Z" fill="#3F4858" stroke="#566070" stroke-width="0.8"/>
<path d="M430.5,579.1L434.5,583.1L430.5,587.1L426.5,583.1Z" fill="#3F4858" stroke="#566070" stroke-width="0.8"/>
<path d="M440.8,570.7L444.8,574.7L440.8,578.7L436.8,574.7Z" fill="#3F4858" stroke="#566070" stroke-width="0.8"/>
<path d="M451.1,573.1L455.1,577.1L451.1,581.1L447.1,577.1Z" fill="#3F4858" stroke="#566070" stroke-width="0.8"/>
<path d="M461.4,569.9L465.4,573.9L461.4,577.9L457.4,573.9Z" fill="#3F4858" stroke="#566070" stroke-width="0.8"/>
<path d="M471.7,566.4L475.7,570.4L471.7,574.4L467.7,570.4Z" fill="#3F4858" stroke="#566070" stroke-width="0.8"/>
<path d="M482.1,558.8L486.1,562.8L482.1,566.8L478.1,562.8Z" fill="#3F4858" stroke="#566070" stroke-width="0.8"/>
<path d="M492.4,556.2L496.4,560.2L492.4,564.2L488.4,560.2Z" fill="#3F4858" stroke="#566070" stroke-width="0.8"/>
<path d="M502.7,552.4L506.7,556.4L502.7,560.4L498.7,556.4Z" fill="#3F4858" stroke="#566070" stroke-width="0.8"/>
<path d="M513.0,547.2L517.0,551.2L513.0,555.2L509.0,551.2Z" fill="#3F4858" stroke="#566070" stroke-width="0.8"/>
<path d="M523.3,542.1L527.3,546.1L523.3,550.1L519.3,546.1Z" fill="#3F4858" stroke="#566070" stroke-width="0.8"/>
<path d="M533.6,539.4L537.6,543.4L533.6,547.4L529.6,543.4Z" fill="#3F4858" stroke="#566070" stroke-width="0.8"/>
<path d="M543.9,544.3L547.9,548.3L543.9,552.3L539.9,548.3Z" fill="#3F4858" stroke="#566070" stroke-width="0.8"/>
<path d="M554.3,550.8L558.3,554.8L554.3,558.8L550.3,554.8Z" fill="#3F4858" stroke="#566070" stroke-width="0.8"/>
<path d="M564.6,557.3L568.6,561.3L564.6,565.3L560.6,561.3Z" fill="#3F4858" stroke="#566070" stroke-width="0.8"/>
<path d="M574.9,571.6L578.9,575.6L574.9,579.6L570.9,575.6Z" fill="#3F4858" stroke="#566070" stroke-width="0.8"/>
<path d="M585.2,563.8L589.2,567.8L585.2,571.8L581.2,567.8Z" fill="#3F4858" stroke="#566070" stroke-width="0.8"/>
<path d="M595.5,557.3L599.5,561.3L595.5,565.3L591.5,561.3Z" fill="#3F4858" stroke="#566070" stroke-width="0.8"/>
<polyline points="69.5,554.8 79.8,556.4 90.1,562.9 100.4,565.4 110.7,561.6 121.0,560.3 131.3,559.2 141.7,558.2 152.0,558.2 162.3,556.2 172.6,554.3 182.9,547.4 193.2,553.8 203.6,554.3 213.9,547.4 224.2,540.3 234.5,543.2 244.8,572.5 255.1,553.6 265.4,546.6 275.8,539.3 286.1,539.9 296.4,543.4 306.7,549.2 317.0,546.8 327.3,554.0 337.6,546.8 348.0,549.2 358.3,554.6 368.6,551.2 378.9,552.8 389.2,550.5 399.5,539.6 409.9,527.1 420.2,559.0 430.5,518.9 440.8,521.5 451.1,526.4 461.4,523.0 471.7,525.6 482.1,521.9 492.4,530.8 502.7,534.6 513.0,535.9 523.3,538.5 533.6,556.7 543.9,555.9 554.3,558.5 564.6,569.9 574.9,558.0 585.2,551.5 595.5,553.8" fill="none" stroke="#1F497D" stroke-width="3.3" stroke-linejoin="round" stroke-linecap="round"/>
<circle cx="69.5" cy="554.8" r="4.7" fill="#4F81BD" stroke="#2F5282" stroke-width="1"/>
<circle cx="79.8" cy="556.4" r="4.7" fill="#4F81BD" stroke="#2F5282" stroke-width="1"/>
<circle cx="90.1" cy="562.9" r="4.7" fill="#4F81BD" stroke="#2F5282" stroke-width="1"/>
<circle cx="100.4" cy="565.4" r="4.7" fill="#4F81BD" stroke="#2F5282" stroke-width="1"/>
<circle cx="110.7" cy="561.6" r="4.7" fill="#4F81BD" stroke="#2F5282" stroke-width="1"/>
<circle cx="121.0" cy="560.3" r="4.7" fill="#4F81BD" stroke="#2F5282" stroke-width="1"/>
<circle cx="131.3" cy="559.2" r="4.7" fill="#4F81BD" stroke="#2F5282" stroke-width="1"/>
<circle cx="141.7" cy="558.2" r="4.7" fill="#4F81BD" stroke="#2F5282" stroke-width="1"/>
<circle cx="152.0" cy="558.2" r="4.7" fill="#4F81BD" stroke="#2F5282" stroke-width="1"/>
<circle cx="162.3" cy="556.2" r="4.7" fill="#4F81BD" stroke="#2F5282" stroke-width="1"/>
<circle cx="172.6" cy="554.3" r="4.7" fill="#4F81BD" stroke="#2F5282" stroke-width="1"/>
<circle cx="182.9" cy="547.4" r="4.7" fill="#4F81BD" stroke="#2F5282" stroke-width="1"/>
<circle cx="193.2" cy="553.8" r="4.7" fill="#4F81BD" stroke="#2F5282" stroke-width="1"/>
<circle cx="203.6" cy="554.3" r="4.7" fill="#4F81BD" stroke="#2F5282" stroke-width="1"/>
<circle cx="213.9" cy="547.4" r="4.7" fill="#4F81BD" stroke="#2F5282" stroke-width="1"/>
<circle cx="224.2" cy="540.3" r="4.7" fill="#4F81BD" stroke="#2F5282" stroke-width="1"/>
<circle cx="234.5" cy="543.2" r="4.7" fill="#4F81BD" stroke="#2F5282" stroke-width="1"/>
<circle cx="244.8" cy="572.5" r="4.7" fill="#4F81BD" stroke="#2F5282" stroke-width="1"/>
<circle cx="255.1" cy="553.6" r="4.7" fill="#4F81BD" stroke="#2F5282" stroke-width="1"/>
<circle cx="265.4" cy="546.6" r="4.7" fill="#4F81BD" stroke="#2F5282" stroke-width="1"/>
<circle cx="275.8" cy="539.3" r="4.7" fill="#4F81BD" stroke="#2F5282" stroke-width="1"/>
<circle cx="286.1" cy="539.9" r="4.7" fill="#4F81BD" stroke="#2F5282" stroke-width="1"/>
<circle cx="296.4" cy="543.4" r="4.7" fill="#4F81BD" stroke="#2F5282" stroke-width="1"/>
<circle cx="306.7" cy="549.2" r="4.7" fill="#4F81BD" stroke="#2F5282" stroke-width="1"/>
<circle cx="317.0" cy="546.8" r="4.7" fill="#4F81BD" stroke="#2F5282" stroke-width="1"/>
<circle cx="327.3" cy="554.0" r="4.7" fill="#4F81BD" stroke="#2F5282" stroke-width="1"/>
<circle cx="337.6" cy="546.8" r="4.7" fill="#4F81BD" stroke="#2F5282" stroke-width="1"/>
<circle cx="348.0" cy="549.2" r="4.7" fill="#4F81BD" stroke="#2F5282" stroke-width="1"/>
<circle cx="358.3" cy="554.6" r="4.7" fill="#4F81BD" stroke="#2F5282" stroke-width="1"/>
<circle cx="368.6" cy="551.2" r="4.7" fill="#4F81BD" stroke="#2F5282" stroke-width="1"/>
<circle cx="378.9" cy="552.8" r="4.7" fill="#4F81BD" stroke="#2F5282" stroke-width="1"/>
<circle cx="389.2" cy="550.5" r="4.7" fill="#4F81BD" stroke="#2F5282" stroke-width="1"/>
<circle cx="399.5" cy="539.6" r="4.7" fill="#4F81BD" stroke="#2F5282" stroke-width="1"/>
<circle cx="409.9" cy="527.1" r="4.7" fill="#4F81BD" stroke="#2F5282" stroke-width="1"/>
<circle cx="420.2" cy="559.0" r="4.7" fill="#4F81BD" stroke="#2F5282" stroke-width="1"/>
<circle cx="430.5" cy="518.9" r="4.7" fill="#4F81BD" stroke="#2F5282" stroke-width="1"/>
<circle cx="440.8" cy="521.5" r="4.7" fill="#4F81BD" stroke="#2F5282" stroke-width="1"/>
<circle cx="451.1" cy="526.4" r="4.7" fill="#4F81BD" stroke="#2F5282" stroke-width="1"/>
<circle cx="461.4" cy="523.0" r="4.7" fill="#4F81BD" stroke="#2F5282" stroke-width="1"/>
<circle cx="471.7" cy="525.6" r="4.7" fill="#4F81BD" stroke="#2F5282" stroke-width="1"/>
<circle cx="482.1" cy="521.9" r="4.7" fill="#4F81BD" stroke="#2F5282" stroke-width="1"/>
<circle cx="492.4" cy="530.8" r="4.7" fill="#4F81BD" stroke="#2F5282" stroke-width="1"/>
<circle cx="502.7" cy="534.6" r="4.7" fill="#4F81BD" stroke="#2F5282" stroke-width="1"/>
<circle cx="513.0" cy="535.9" r="4.7" fill="#4F81BD" stroke="#2F5282" stroke-width="1"/>
<circle cx="523.3" cy="538.5" r="4.7" fill="#4F81BD" stroke="#2F5282" stroke-width="1"/>
<circle cx="533.6" cy="556.7" r="4.7" fill="#4F81BD" stroke="#2F5282" stroke-width="1"/>
<circle cx="543.9" cy="555.9" r="4.7" fill="#4F81BD" stroke="#2F5282" stroke-width="1"/>
<circle cx="554.3" cy="558.5" r="4.7" fill="#4F81BD" stroke="#2F5282" stroke-width="1"/>
<circle cx="564.6" cy="569.9" r="4.7" fill="#4F81BD" stroke="#2F5282" stroke-width="1"/>
<circle cx="574.9" cy="558.0" r="4.7" fill="#4F81BD" stroke="#2F5282" stroke-width="1"/>
<circle cx="585.2" cy="551.5" r="4.7" fill="#4F81BD" stroke="#2F5282" stroke-width="1"/>
<circle cx="595.5" cy="553.8" r="4.7" fill="#4F81BD" stroke="#2F5282" stroke-width="1"/>
<polyline points="69.5,553.1 79.8,551.5 90.1,558.0 100.4,554.8 110.7,551.5 121.0,548.3 131.3,545.0 141.7,546.6 152.0,542.6 162.3,532.6 172.6,519.1 182.9,517.0 193.2,495.6 203.6,469.5 213.9,461.4 224.2,450.0 234.5,517.5 244.8,578.4 255.1,473.3 265.4,439.0 275.8,455.3 286.1,487.9 296.4,512.7 306.7,514.4 317.0,530.0 327.3,524.0 337.6,528.7 348.0,528.7 358.3,542.1 368.6,539.6 378.9,534.7 389.2,522.2 399.5,507.5 409.9,516.6 420.2,541.7 430.5,509.1 440.8,492.5 451.1,490.7 461.4,492.2 471.7,483.1 482.1,471.6 492.4,481.9 502.7,503.8 513.0,505.1 523.3,512.4 533.6,540.8 543.9,548.3 554.3,558.5 564.6,566.2 574.9,564.6 585.2,562.8 595.5,557.6" fill="none" stroke="#FFC000" stroke-width="3.3" stroke-linejoin="round" stroke-linecap="round"/>
<path d="M69.5,548.1L74.5,553.1L69.5,558.1L64.5,553.1Z" fill="#FFC000" stroke="#E46C0A" stroke-width="1"/>
<path d="M79.8,546.5L84.8,551.5L79.8,556.5L74.8,551.5Z" fill="#FFC000" stroke="#E46C0A" stroke-width="1"/>
<path d="M90.1,553.0L95.1,558.0L90.1,563.0L85.1,558.0Z" fill="#FFC000" stroke="#E46C0A" stroke-width="1"/>
<path d="M100.4,549.8L105.4,554.8L100.4,559.8L95.4,554.8Z" fill="#FFC000" stroke="#E46C0A" stroke-width="1"/>
<path d="M110.7,546.5L115.7,551.5L110.7,556.5L105.7,551.5Z" fill="#FFC000" stroke="#E46C0A" stroke-width="1"/>
<path d="M121.0,543.3L126.0,548.3L121.0,553.3L116.0,548.3Z" fill="#FFC000" stroke="#E46C0A" stroke-width="1"/>
<path d="M131.3,540.0L136.3,545.0L131.3,550.0L126.3,545.0Z" fill="#FFC000" stroke="#E46C0A" stroke-width="1"/>
<path d="M141.7,541.6L146.7,546.6L141.7,551.6L136.7,546.6Z" fill="#FFC000" stroke="#E46C0A" stroke-width="1"/>
<path d="M152.0,537.6L157.0,542.6L152.0,547.6L147.0,542.6Z" fill="#FFC000" stroke="#E46C0A" stroke-width="1"/>
<path d="M162.3,527.6L167.3,532.6L162.3,537.6L157.3,532.6Z" fill="#FFC000" stroke="#E46C0A" stroke-width="1"/>
<path d="M172.6,514.1L177.6,519.1L172.6,524.1L167.6,519.1Z" fill="#FFC000" stroke="#E46C0A" stroke-width="1"/>
<path d="M182.9,512.0L187.9,517.0L182.9,522.0L177.9,517.0Z" fill="#FFC000" stroke="#E46C0A" stroke-width="1"/>
<path d="M193.2,490.6L198.2,495.6L193.2,500.6L188.2,495.6Z" fill="#FFC000" stroke="#E46C0A" stroke-width="1"/>
<path d="M203.6,464.5L208.6,469.5L203.6,474.5L198.6,469.5Z" fill="#FFC000" stroke="#E46C0A" stroke-width="1"/>
<path d="M213.9,456.4L218.9,461.4L213.9,466.4L208.9,461.4Z" fill="#FFC000" stroke="#E46C0A" stroke-width="1"/>
<path d="M224.2,445.0L229.2,450.0L224.2,455.0L219.2,450.0Z" fill="#FFC000" stroke="#E46C0A" stroke-width="1"/>
<path d="M234.5,512.5L239.5,517.5L234.5,522.5L229.5,517.5Z" fill="#FFC000" stroke="#E46C0A" stroke-width="1"/>
<path d="M244.8,573.4L249.8,578.4L244.8,583.4L239.8,578.4Z" fill="#FFC000" stroke="#E46C0A" stroke-width="1"/>
<path d="M255.1,468.3L260.1,473.3L255.1,478.3L250.1,473.3Z" fill="#FFC000" stroke="#E46C0A" stroke-width="1"/>
<path d="M265.4,434.0L270.4,439.0L265.4,444.0L260.4,439.0Z" fill="#FFC000" stroke="#E46C0A" stroke-width="1"/>
<path d="M275.8,450.3L280.8,455.3L275.8,460.3L270.8,455.3Z" fill="#FFC000" stroke="#E46C0A" stroke-width="1"/>
<path d="M286.1,482.9L291.1,487.9L286.1,492.9L281.1,487.9Z" fill="#FFC000" stroke="#E46C0A" stroke-width="1"/>
<path d="M296.4,507.7L301.4,512.7L296.4,517.7L291.4,512.7Z" fill="#FFC000" stroke="#E46C0A" stroke-width="1"/>
<path d="M306.7,509.4L311.7,514.4L306.7,519.4L301.7,514.4Z" fill="#FFC000" stroke="#E46C0A" stroke-width="1"/>
<path d="M317.0,525.0L322.0,530.0L317.0,535.0L312.0,530.0Z" fill="#FFC000" stroke="#E46C0A" stroke-width="1"/>
<path d="M327.3,519.0L332.3,524.0L327.3,529.0L322.3,524.0Z" fill="#FFC000" stroke="#E46C0A" stroke-width="1"/>
<path d="M337.6,523.7L342.6,528.7L337.6,533.7L332.6,528.7Z" fill="#FFC000" stroke="#E46C0A" stroke-width="1"/>
<path d="M348.0,523.7L353.0,528.7L348.0,533.7L343.0,528.7Z" fill="#FFC000" stroke="#E46C0A" stroke-width="1"/>
<path d="M358.3,537.1L363.3,542.1L358.3,547.1L353.3,542.1Z" fill="#FFC000" stroke="#E46C0A" stroke-width="1"/>
<path d="M368.6,534.6L373.6,539.6L368.6,544.6L363.6,539.6Z" fill="#FFC000" stroke="#E46C0A" stroke-width="1"/>
<path d="M378.9,529.7L383.9,534.7L378.9,539.7L373.9,534.7Z" fill="#FFC000" stroke="#E46C0A" stroke-width="1"/>
<path d="M389.2,517.2L394.2,522.2L389.2,527.2L384.2,522.2Z" fill="#FFC000" stroke="#E46C0A" stroke-width="1"/>
<path d="M399.5,502.5L404.5,507.5L399.5,512.5L394.5,507.5Z" fill="#FFC000" stroke="#E46C0A" stroke-width="1"/>
<path d="M409.9,511.6L414.9,516.6L409.9,521.6L404.9,516.6Z" fill="#FFC000" stroke="#E46C0A" stroke-width="1"/>
<path d="M420.2,536.7L425.2,541.7L420.2,546.7L415.2,541.7Z" fill="#FFC000" stroke="#E46C0A" stroke-width="1"/>
<path d="M430.5,504.1L435.5,509.1L430.5,514.1L425.5,509.1Z" fill="#FFC000" stroke="#E46C0A" stroke-width="1"/>
<path d="M440.8,487.5L445.8,492.5L440.8,497.5L435.8,492.5Z" fill="#FFC000" stroke="#E46C0A" stroke-width="1"/>
<path d="M451.1,485.7L456.1,490.7L451.1,495.7L446.1,490.7Z" fill="#FFC000" stroke="#E46C0A" stroke-width="1"/>
<path d="M461.4,487.2L466.4,492.2L461.4,497.2L456.4,492.2Z" fill="#FFC000" stroke="#E46C0A" stroke-width="1"/>
<path d="M471.7,478.1L476.7,483.1L471.7,488.1L466.7,483.1Z" fill="#FFC000" stroke="#E46C0A" stroke-width="1"/>
<path d="M482.1,466.6L487.1,471.6L482.1,476.6L477.1,471.6Z" fill="#FFC000" stroke="#E46C0A" stroke-width="1"/>
<path d="M492.4,476.9L497.4,481.9L492.4,486.9L487.4,481.9Z" fill="#FFC000" stroke="#E46C0A" stroke-width="1"/>
<path d="M502.7,498.8L507.7,503.8L502.7,508.8L497.7,503.8Z" fill="#FFC000" stroke="#E46C0A" stroke-width="1"/>
<path d="M513.0,500.1L518.0,505.1L513.0,510.1L508.0,505.1Z" fill="#FFC000" stroke="#E46C0A" stroke-width="1"/>
<path d="M523.3,507.4L528.3,512.4L523.3,517.4L518.3,512.4Z" fill="#FFC000" stroke="#E46C0A" stroke-width="1"/>
<path d="M533.6,535.8L538.6,540.8L533.6,545.8L528.6,540.8Z" fill="#FFC000" stroke="#E46C0A" stroke-width="1"/>
<path d="M543.9,543.3L548.9,548.3L543.9,553.3L538.9,548.3Z" fill="#FFC000" stroke="#E46C0A" stroke-width="1"/>
<path d="M554.3,553.5L559.3,558.5L554.3,563.5L549.3,558.5Z" fill="#FFC000" stroke="#E46C0A" stroke-width="1"/>
<path d="M564.6,561.2L569.6,566.2L564.6,571.2L559.6,566.2Z" fill="#FFC000" stroke="#E46C0A" stroke-width="1"/>
<path d="M574.9,559.6L579.9,564.6L574.9,569.6L569.9,564.6Z" fill="#FFC000" stroke="#E46C0A" stroke-width="1"/>
<path d="M585.2,557.8L590.2,562.8L585.2,567.8L580.2,562.8Z" fill="#FFC000" stroke="#E46C0A" stroke-width="1"/>
<path d="M595.5,552.6L600.5,557.6L595.5,562.6L590.5,557.6Z" fill="#FFC000" stroke="#E46C0A" stroke-width="1"/>
<polyline points="69.5,553.1 79.8,551.5 90.1,564.6 100.4,558.0 110.7,554.8 121.0,549.9 131.3,543.4 141.7,541.7 152.0,535.2 162.3,530.3 172.6,498.9 182.9,504.2 193.2,482.6 203.6,469.5 213.9,436.8 224.2,418.8 234.5,477.7 244.8,578.4 255.1,457.0 265.4,419.5 275.8,447.2 286.1,471.6 296.4,483.1 306.7,478.2 317.0,501.3 327.3,506.4 337.6,505.9 348.0,511.9 358.3,526.4 368.6,535.2 378.9,532.4 389.2,522.2 399.5,508.2 409.9,509.1 420.2,528.0 430.5,496.1 440.8,470.8 451.1,470.0 461.4,468.4 471.7,479.8 482.1,483.2 492.4,498.5 502.7,514.0 513.0,520.5 523.3,520.5 533.6,539.8 543.9,533.3 554.3,538.5 564.6,546.1 574.9,553.3 585.2,540.4 595.5,533.3" fill="none" stroke="#E9A3A0" stroke-width="3.3" stroke-linejoin="round" stroke-linecap="round"/>
<rect x="65.6" y="549.2" width="7.8" height="7.8" fill="#E6B9B8" fill-opacity="0.3" stroke="#FF0000" stroke-width="1.35"/>
<rect x="75.9" y="547.6" width="7.8" height="7.8" fill="#E6B9B8" fill-opacity="0.3" stroke="#FF0000" stroke-width="1.35"/>
<rect x="86.2" y="560.7" width="7.8" height="7.8" fill="#E6B9B8" fill-opacity="0.3" stroke="#FF0000" stroke-width="1.35"/>
<rect x="96.5" y="554.1" width="7.8" height="7.8" fill="#E6B9B8" fill-opacity="0.3" stroke="#FF0000" stroke-width="1.35"/>
<rect x="106.8" y="550.9" width="7.8" height="7.8" fill="#E6B9B8" fill-opacity="0.3" stroke="#FF0000" stroke-width="1.35"/>
<rect x="117.1" y="546.0" width="7.8" height="7.8" fill="#E6B9B8" fill-opacity="0.3" stroke="#FF0000" stroke-width="1.35"/>
<rect x="127.4" y="539.5" width="7.8" height="7.8" fill="#E6B9B8" fill-opacity="0.3" stroke="#FF0000" stroke-width="1.35"/>
<rect x="137.8" y="537.8" width="7.8" height="7.8" fill="#E6B9B8" fill-opacity="0.3" stroke="#FF0000" stroke-width="1.35"/>
<rect x="148.1" y="531.3" width="7.8" height="7.8" fill="#E6B9B8" fill-opacity="0.3" stroke="#FF0000" stroke-width="1.35"/>
<rect x="158.4" y="526.4" width="7.8" height="7.8" fill="#E6B9B8" fill-opacity="0.3" stroke="#FF0000" stroke-width="1.35"/>
<rect x="168.7" y="495.0" width="7.8" height="7.8" fill="#E6B9B8" fill-opacity="0.3" stroke="#FF0000" stroke-width="1.35"/>
<rect x="179.0" y="500.4" width="7.8" height="7.8" fill="#E6B9B8" fill-opacity="0.3" stroke="#FF0000" stroke-width="1.35"/>
<rect x="189.3" y="478.7" width="7.8" height="7.8" fill="#E6B9B8" fill-opacity="0.3" stroke="#FF0000" stroke-width="1.35"/>
<rect x="199.7" y="465.6" width="7.8" height="7.8" fill="#E6B9B8" fill-opacity="0.3" stroke="#FF0000" stroke-width="1.35"/>
<rect x="210.0" y="432.9" width="7.8" height="7.8" fill="#E6B9B8" fill-opacity="0.3" stroke="#FF0000" stroke-width="1.35"/>
<rect x="220.3" y="414.9" width="7.8" height="7.8" fill="#E6B9B8" fill-opacity="0.3" stroke="#FF0000" stroke-width="1.35"/>
<rect x="230.6" y="473.8" width="7.8" height="7.8" fill="#E6B9B8" fill-opacity="0.3" stroke="#FF0000" stroke-width="1.35"/>
<rect x="240.9" y="574.5" width="7.8" height="7.8" fill="#E6B9B8" fill-opacity="0.3" stroke="#FF0000" stroke-width="1.35"/>
<rect x="251.2" y="453.1" width="7.8" height="7.8" fill="#E6B9B8" fill-opacity="0.3" stroke="#FF0000" stroke-width="1.35"/>
<rect x="261.5" y="415.6" width="7.8" height="7.8" fill="#E6B9B8" fill-opacity="0.3" stroke="#FF0000" stroke-width="1.35"/>
<rect x="271.9" y="443.3" width="7.8" height="7.8" fill="#E6B9B8" fill-opacity="0.3" stroke="#FF0000" stroke-width="1.35"/>
<rect x="282.2" y="467.8" width="7.8" height="7.8" fill="#E6B9B8" fill-opacity="0.3" stroke="#FF0000" stroke-width="1.35"/>
<rect x="292.5" y="479.2" width="7.8" height="7.8" fill="#E6B9B8" fill-opacity="0.3" stroke="#FF0000" stroke-width="1.35"/>
<rect x="302.8" y="474.3" width="7.8" height="7.8" fill="#E6B9B8" fill-opacity="0.3" stroke="#FF0000" stroke-width="1.35"/>
<rect x="313.1" y="497.4" width="7.8" height="7.8" fill="#E6B9B8" fill-opacity="0.3" stroke="#FF0000" stroke-width="1.35"/>
<rect x="323.4" y="502.5" width="7.8" height="7.8" fill="#E6B9B8" fill-opacity="0.3" stroke="#FF0000" stroke-width="1.35"/>
<rect x="333.7" y="502.0" width="7.8" height="7.8" fill="#E6B9B8" fill-opacity="0.3" stroke="#FF0000" stroke-width="1.35"/>
<rect x="344.1" y="508.0" width="7.8" height="7.8" fill="#E6B9B8" fill-opacity="0.3" stroke="#FF0000" stroke-width="1.35"/>
<rect x="354.4" y="522.5" width="7.8" height="7.8" fill="#E6B9B8" fill-opacity="0.3" stroke="#FF0000" stroke-width="1.35"/>
<rect x="364.7" y="531.3" width="7.8" height="7.8" fill="#E6B9B8" fill-opacity="0.3" stroke="#FF0000" stroke-width="1.35"/>
<rect x="375.0" y="528.5" width="7.8" height="7.8" fill="#E6B9B8" fill-opacity="0.3" stroke="#FF0000" stroke-width="1.35"/>
<rect x="385.3" y="518.3" width="7.8" height="7.8" fill="#E6B9B8" fill-opacity="0.3" stroke="#FF0000" stroke-width="1.35"/>
<rect x="395.6" y="504.3" width="7.8" height="7.8" fill="#E6B9B8" fill-opacity="0.3" stroke="#FF0000" stroke-width="1.35"/>
<rect x="406.0" y="505.2" width="7.8" height="7.8" fill="#E6B9B8" fill-opacity="0.3" stroke="#FF0000" stroke-width="1.35"/>
<rect x="416.3" y="524.1" width="7.8" height="7.8" fill="#E6B9B8" fill-opacity="0.3" stroke="#FF0000" stroke-width="1.35"/>
<rect x="426.6" y="492.2" width="7.8" height="7.8" fill="#E6B9B8" fill-opacity="0.3" stroke="#FF0000" stroke-width="1.35"/>
<rect x="436.9" y="466.9" width="7.8" height="7.8" fill="#E6B9B8" fill-opacity="0.3" stroke="#FF0000" stroke-width="1.35"/>
<rect x="447.2" y="466.1" width="7.8" height="7.8" fill="#E6B9B8" fill-opacity="0.3" stroke="#FF0000" stroke-width="1.35"/>
<rect x="457.5" y="464.5" width="7.8" height="7.8" fill="#E6B9B8" fill-opacity="0.3" stroke="#FF0000" stroke-width="1.35"/>
<rect x="467.8" y="475.9" width="7.8" height="7.8" fill="#E6B9B8" fill-opacity="0.3" stroke="#FF0000" stroke-width="1.35"/>
<rect x="478.2" y="479.3" width="7.8" height="7.8" fill="#E6B9B8" fill-opacity="0.3" stroke="#FF0000" stroke-width="1.35"/>
<rect x="488.5" y="494.6" width="7.8" height="7.8" fill="#E6B9B8" fill-opacity="0.3" stroke="#FF0000" stroke-width="1.35"/>
<rect x="498.8" y="510.1" width="7.8" height="7.8" fill="#E6B9B8" fill-opacity="0.3" stroke="#FF0000" stroke-width="1.35"/>
<rect x="509.1" y="516.6" width="7.8" height="7.8" fill="#E6B9B8" fill-opacity="0.3" stroke="#FF0000" stroke-width="1.35"/>
<rect x="519.4" y="516.6" width="7.8" height="7.8" fill="#E6B9B8" fill-opacity="0.3" stroke="#FF0000" stroke-width="1.35"/>
<rect x="529.7" y="535.9" width="7.8" height="7.8" fill="#E6B9B8" fill-opacity="0.3" stroke="#FF0000" stroke-width="1.35"/>
<rect x="540.0" y="529.4" width="7.8" height="7.8" fill="#E6B9B8" fill-opacity="0.3" stroke="#FF0000" stroke-width="1.35"/>
<rect x="550.4" y="534.6" width="7.8" height="7.8" fill="#E6B9B8" fill-opacity="0.3" stroke="#FF0000" stroke-width="1.35"/>
<rect x="560.7" y="542.2" width="7.8" height="7.8" fill="#E6B9B8" fill-opacity="0.3" stroke="#FF0000" stroke-width="1.35"/>
<rect x="571.0" y="549.4" width="7.8" height="7.8" fill="#E6B9B8" fill-opacity="0.3" stroke="#FF0000" stroke-width="1.35"/>
<rect x="581.3" y="536.5" width="7.8" height="7.8" fill="#E6B9B8" fill-opacity="0.3" stroke="#FF0000" stroke-width="1.35"/>
<rect x="591.6" y="529.4" width="7.8" height="7.8" fill="#E6B9B8" fill-opacity="0.3" stroke="#FF0000" stroke-width="1.35"/>
<polyline points="69.5,530.3 79.8,533.6 90.1,538.5 100.4,540.1 110.7,538.5 121.0,538.5 131.3,535.2 141.7,534.2 152.0,534.2 162.3,527.7 172.6,515.7 182.9,503.8 193.2,477.7 203.6,450.0 213.9,428.5 224.2,418.2 234.5,440.2 244.8,578.4 255.1,455.3 265.4,439.0 275.8,419.8 286.1,441.5 296.4,464.3 306.7,495.3 317.0,501.3 327.3,505.4 337.6,506.7 348.0,507.8 358.3,526.9 368.6,526.9 378.9,531.3 389.2,531.3 399.5,521.5 409.9,514.2 420.2,551.7 430.5,532.4 440.8,513.1 451.1,517.9 461.4,516.6 471.7,515.3 482.1,512.7 492.4,521.7 502.7,527.7 513.0,529.5 523.3,533.3 533.6,547.4 543.9,547.4 554.3,547.4 564.6,545.0 574.9,566.7 585.2,552.5 595.5,549.1" fill="none" stroke="#7092C0" stroke-width="3.3" stroke-linejoin="round" stroke-linecap="round"/>
<path d="M69.5,523.3L74.3,534.1L64.7,534.1Z" fill="#4F81BD" stroke="#D99694" stroke-width="0.8"/>
<path d="M79.8,526.6L84.6,537.4L75.0,537.4Z" fill="#4F81BD" stroke="#D99694" stroke-width="0.8"/>
<path d="M90.1,531.5L94.9,542.3L85.3,542.3Z" fill="#4F81BD" stroke="#D99694" stroke-width="0.8"/>
<path d="M100.4,533.1L105.2,543.9L95.6,543.9Z" fill="#4F81BD" stroke="#D99694" stroke-width="0.8"/>
<path d="M110.7,531.5L115.5,542.3L105.9,542.3Z" fill="#4F81BD" stroke="#D99694" stroke-width="0.8"/>
<path d="M121.0,531.5L125.8,542.3L116.2,542.3Z" fill="#4F81BD" stroke="#D99694" stroke-width="0.8"/>
<path d="M131.3,528.2L136.1,539.0L126.5,539.0Z" fill="#4F81BD" stroke="#D99694" stroke-width="0.8"/>
<path d="M141.7,527.2L146.5,538.0L136.9,538.0Z" fill="#4F81BD" stroke="#D99694" stroke-width="0.8"/>
<path d="M152.0,527.2L156.8,538.0L147.2,538.0Z" fill="#4F81BD" stroke="#D99694" stroke-width="0.8"/>
<path d="M162.3,520.7L167.1,531.5L157.5,531.5Z" fill="#4F81BD" stroke="#D99694" stroke-width="0.8"/>
<path d="M172.6,508.7L177.4,519.5L167.8,519.5Z" fill="#4F81BD" stroke="#D99694" stroke-width="0.8"/>
<path d="M182.9,496.8L187.7,507.6L178.1,507.6Z" fill="#4F81BD" stroke="#D99694" stroke-width="0.8"/>
<path d="M193.2,470.7L198.0,481.5L188.4,481.5Z" fill="#4F81BD" stroke="#D99694" stroke-width="0.8"/>
<path d="M203.6,443.0L208.4,453.8L198.8,453.8Z" fill="#4F81BD" stroke="#D99694" stroke-width="0.8"/>
<path d="M213.9,421.5L218.7,432.3L209.1,432.3Z" fill="#4F81BD" stroke="#D99694" stroke-width="0.8"/>
<path d="M224.2,411.2L229.0,422.0L219.4,422.0Z" fill="#4F81BD" stroke="#D99694" stroke-width="0.8"/>
<path d="M234.5,433.2L239.3,444.0L229.7,444.0Z" fill="#4F81BD" stroke="#D99694" stroke-width="0.8"/>
<path d="M244.8,571.4L249.6,582.2L240.0,582.2Z" fill="#4F81BD" stroke="#D99694" stroke-width="0.8"/>
<path d="M255.1,448.3L259.9,459.1L250.3,459.1Z" fill="#4F81BD" stroke="#D99694" stroke-width="0.8"/>
<path d="M265.4,432.0L270.2,442.8L260.6,442.8Z" fill="#4F81BD" stroke="#D99694" stroke-width="0.8"/>
<path d="M275.8,412.8L280.6,423.6L271.0,423.6Z" fill="#4F81BD" stroke="#D99694" stroke-width="0.8"/>
<path d="M286.1,434.5L290.9,445.3L281.3,445.3Z" fill="#4F81BD" stroke="#D99694" stroke-width="0.8"/>
<path d="M296.4,457.3L301.2,468.1L291.6,468.1Z" fill="#4F81BD" stroke="#D99694" stroke-width="0.8"/>
<path d="M306.7,488.3L311.5,499.1L301.9,499.1Z" fill="#4F81BD" stroke="#D99694" stroke-width="0.8"/>
<path d="M317.0,494.3L321.8,505.1L312.2,505.1Z" fill="#4F81BD" stroke="#D99694" stroke-width="0.8"/>
<path d="M327.3,498.4L332.1,509.2L322.5,509.2Z" fill="#4F81BD" stroke="#D99694" stroke-width="0.8"/>
<path d="M337.6,499.7L342.4,510.5L332.8,510.5Z" fill="#4F81BD" stroke="#D99694" stroke-width="0.8"/>
<path d="M348.0,500.8L352.8,511.6L343.2,511.6Z" fill="#4F81BD" stroke="#D99694" stroke-width="0.8"/>
<path d="M358.3,519.9L363.1,530.7L353.5,530.7Z" fill="#4F81BD" stroke="#D99694" stroke-width="0.8"/>
<path d="M368.6,519.9L373.4,530.7L363.8,530.7Z" fill="#4F81BD" stroke="#D99694" stroke-width="0.8"/>
<path d="M378.9,524.3L383.7,535.1L374.1,535.1Z" fill="#4F81BD" stroke="#D99694" stroke-width="0.8"/>
<path d="M389.2,524.3L394.0,535.1L384.4,535.1Z" fill="#4F81BD" stroke="#D99694" stroke-width="0.8"/>
<path d="M399.5,514.5L404.3,525.3L394.7,525.3Z" fill="#4F81BD" stroke="#D99694" stroke-width="0.8"/>
<path d="M409.9,507.2L414.7,518.0L405.1,518.0Z" fill="#4F81BD" stroke="#D99694" stroke-width="0.8"/>
<path d="M420.2,544.7L425.0,555.5L415.4,555.5Z" fill="#4F81BD" stroke="#D99694" stroke-width="0.8"/>
<path d="M430.5,525.4L435.3,536.2L425.7,536.2Z" fill="#4F81BD" stroke="#D99694" stroke-width="0.8"/>
<path d="M440.8,506.1L445.6,516.9L436.0,516.9Z" fill="#4F81BD" stroke="#D99694" stroke-width="0.8"/>
<path d="M451.1,510.9L455.9,521.7L446.3,521.7Z" fill="#4F81BD" stroke="#D99694" stroke-width="0.8"/>
<path d="M461.4,509.6L466.2,520.4L456.6,520.4Z" fill="#4F81BD" stroke="#D99694" stroke-width="0.8"/>
<path d="M471.7,508.3L476.5,519.1L466.9,519.1Z" fill="#4F81BD" stroke="#D99694" stroke-width="0.8"/>
<path d="M482.1,505.7L486.9,516.5L477.3,516.5Z" fill="#4F81BD" stroke="#D99694" stroke-width="0.8"/>
<path d="M492.4,514.7L497.2,525.5L487.6,525.5Z" fill="#4F81BD" stroke="#D99694" stroke-width="0.8"/>
<path d="M502.7,520.7L507.5,531.5L497.9,531.5Z" fill="#4F81BD" stroke="#D99694" stroke-width="0.8"/>
<path d="M513.0,522.5L517.8,533.3L508.2,533.3Z" fill="#4F81BD" stroke="#D99694" stroke-width="0.8"/>
<path d="M523.3,526.3L528.1,537.1L518.5,537.1Z" fill="#4F81BD" stroke="#D99694" stroke-width="0.8"/>
<path d="M533.6,540.4L538.4,551.2L528.8,551.2Z" fill="#4F81BD" stroke="#D99694" stroke-width="0.8"/>
<path d="M543.9,540.4L548.7,551.2L539.1,551.2Z" fill="#4F81BD" stroke="#D99694" stroke-width="0.8"/>
<path d="M554.3,540.4L559.1,551.2L549.5,551.2Z" fill="#4F81BD" stroke="#D99694" stroke-width="0.8"/>
<path d="M564.6,538.0L569.4,548.8L559.8,548.8Z" fill="#4F81BD" stroke="#D99694" stroke-width="0.8"/>
<path d="M574.9,559.7L579.7,570.5L570.1,570.5Z" fill="#4F81BD" stroke="#D99694" stroke-width="0.8"/>
<path d="M585.2,545.5L590.0,556.3L580.4,556.3Z" fill="#4F81BD" stroke="#D99694" stroke-width="0.8"/>
<path d="M595.5,542.1L600.3,552.9L590.7,552.9Z" fill="#4F81BD" stroke="#D99694" stroke-width="0.8"/>
<polyline points="69.5,540.8 79.8,542.1 90.1,549.1 100.4,551.5 110.7,548.7 121.0,550.7 131.3,553.3 141.7,548.4 152.0,547.4 162.3,553.3 172.6,533.8 182.9,540.6 193.2,521.0 203.6,509.3 213.9,498.9 224.2,483.7 234.5,485.2 244.8,579.9 255.1,500.0 265.4,496.1 275.8,463.7 286.1,452.9 296.4,430.6 306.7,427.6 317.0,375.3 327.3,380.5 337.6,386.6 348.0,389.0 358.3,419.0 368.6,466.1 378.9,491.4 389.2,464.8 399.5,470.8 409.9,452.7 420.2,487.6 430.5,499.8 440.8,471.5 451.1,468.4 461.4,485.8 471.7,483.2 482.1,490.1 492.4,489.6 502.7,496.1 513.0,496.1 523.3,493.0 533.6,491.7 543.9,514.0 554.3,505.6 564.6,519.2 574.9,538.5 585.2,523.0 595.5,523.0" fill="none" stroke="#9A966A" stroke-width="3.6" stroke-linejoin="round" stroke-linecap="round"/>
<path d="M69.5,535.8L74.5,540.8L69.5,545.8L64.5,540.8Z" fill="#403D24" stroke="#8F8A5A" stroke-width="1"/>
<path d="M79.8,537.1L84.8,542.1L79.8,547.1L74.8,542.1Z" fill="#403D24" stroke="#8F8A5A" stroke-width="1"/>
<path d="M90.1,544.1L95.1,549.1L90.1,554.1L85.1,549.1Z" fill="#403D24" stroke="#8F8A5A" stroke-width="1"/>
<path d="M100.4,546.5L105.4,551.5L100.4,556.5L95.4,551.5Z" fill="#403D24" stroke="#8F8A5A" stroke-width="1"/>
<path d="M110.7,543.7L115.7,548.7L110.7,553.7L105.7,548.7Z" fill="#403D24" stroke="#8F8A5A" stroke-width="1"/>
<path d="M121.0,545.7L126.0,550.7L121.0,555.7L116.0,550.7Z" fill="#403D24" stroke="#8F8A5A" stroke-width="1"/>
<path d="M131.3,548.3L136.3,553.3L131.3,558.3L126.3,553.3Z" fill="#403D24" stroke="#8F8A5A" stroke-width="1"/>
<path d="M141.7,543.4L146.7,548.4L141.7,553.4L136.7,548.4Z" fill="#403D24" stroke="#8F8A5A" stroke-width="1"/>
<path d="M152.0,542.4L157.0,547.4L152.0,552.4L147.0,547.4Z" fill="#403D24" stroke="#8F8A5A" stroke-width="1"/>
<path d="M162.3,548.3L167.3,553.3L162.3,558.3L157.3,553.3Z" fill="#403D24" stroke="#8F8A5A" stroke-width="1"/>
<path d="M172.6,528.8L177.6,533.8L172.6,538.8L167.6,533.8Z" fill="#403D24" stroke="#8F8A5A" stroke-width="1"/>
<path d="M182.9,535.6L187.9,540.6L182.9,545.6L177.9,540.6Z" fill="#403D24" stroke="#8F8A5A" stroke-width="1"/>
<path d="M193.2,516.0L198.2,521.0L193.2,526.0L188.2,521.0Z" fill="#403D24" stroke="#8F8A5A" stroke-width="1"/>
<path d="M203.6,504.3L208.6,509.3L203.6,514.3L198.6,509.3Z" fill="#403D24" stroke="#8F8A5A" stroke-width="1"/>
<path d="M213.9,493.9L218.9,498.9L213.9,503.9L208.9,498.9Z" fill="#403D24" stroke="#8F8A5A" stroke-width="1"/>
<path d="M224.2,478.7L229.2,483.7L224.2,488.7L219.2,483.7Z" fill="#403D24" stroke="#8F8A5A" stroke-width="1"/>
<path d="M234.5,480.2L239.5,485.2L234.5,490.2L229.5,485.2Z" fill="#403D24" stroke="#8F8A5A" stroke-width="1"/>
<path d="M244.8,574.9L249.8,579.9L244.8,584.9L239.8,579.9Z" fill="#403D24" stroke="#8F8A5A" stroke-width="1"/>
<path d="M255.1,495.0L260.1,500.0L255.1,505.0L250.1,500.0Z" fill="#403D24" stroke="#8F8A5A" stroke-width="1"/>
<path d="M265.4,491.1L270.4,496.1L265.4,501.1L260.4,496.1Z" fill="#403D24" stroke="#8F8A5A" stroke-width="1"/>
<path d="M275.8,458.7L280.8,463.7L275.8,468.7L270.8,463.7Z" fill="#403D24" stroke="#8F8A5A" stroke-width="1"/>
<path d="M286.1,447.9L291.1,452.9L286.1,457.9L281.1,452.9Z" fill="#403D24" stroke="#8F8A5A" stroke-width="1"/>
<path d="M296.4,425.6L301.4,430.6L296.4,435.6L291.4,430.6Z" fill="#403D24" stroke="#8F8A5A" stroke-width="1"/>
<path d="M306.7,422.6L311.7,427.6L306.7,432.6L301.7,427.6Z" fill="#403D24" stroke="#8F8A5A" stroke-width="1"/>
<path d="M317.0,370.3L322.0,375.3L317.0,380.3L312.0,375.3Z" fill="#403D24" stroke="#8F8A5A" stroke-width="1"/>
<path d="M327.3,375.5L332.3,380.5L327.3,385.5L322.3,380.5Z" fill="#403D24" stroke="#8F8A5A" stroke-width="1"/>
<path d="M337.6,381.6L342.6,386.6L337.6,391.6L332.6,386.6Z" fill="#403D24" stroke="#8F8A5A" stroke-width="1"/>
<path d="M348.0,384.0L353.0,389.0L348.0,394.0L343.0,389.0Z" fill="#403D24" stroke="#8F8A5A" stroke-width="1"/>
<path d="M358.3,414.0L363.3,419.0L358.3,424.0L353.3,419.0Z" fill="#403D24" stroke="#8F8A5A" stroke-width="1"/>
<path d="M368.6,461.1L373.6,466.1L368.6,471.1L363.6,466.1Z" fill="#403D24" stroke="#8F8A5A" stroke-width="1"/>
<path d="M378.9,486.4L383.9,491.4L378.9,496.4L373.9,491.4Z" fill="#403D24" stroke="#8F8A5A" stroke-width="1"/>
<path d="M389.2,459.8L394.2,464.8L389.2,469.8L384.2,464.8Z" fill="#403D24" stroke="#8F8A5A" stroke-width="1"/>
<path d="M399.5,465.8L404.5,470.8L399.5,475.8L394.5,470.8Z" fill="#403D24" stroke="#8F8A5A" stroke-width="1"/>
<path d="M409.9,447.7L414.9,452.7L409.9,457.7L404.9,452.7Z" fill="#403D24" stroke="#8F8A5A" stroke-width="1"/>
<path d="M420.2,482.6L425.2,487.6L420.2,492.6L415.2,487.6Z" fill="#403D24" stroke="#8F8A5A" stroke-width="1"/>
<path d="M430.5,494.8L435.5,499.8L430.5,504.8L425.5,499.8Z" fill="#403D24" stroke="#8F8A5A" stroke-width="1"/>
<path d="M440.8,466.5L445.8,471.5L440.8,476.5L435.8,471.5Z" fill="#403D24" stroke="#8F8A5A" stroke-width="1"/>
<path d="M451.1,463.4L456.1,468.4L451.1,473.4L446.1,468.4Z" fill="#403D24" stroke="#8F8A5A" stroke-width="1"/>
<path d="M461.4,480.8L466.4,485.8L461.4,490.8L456.4,485.8Z" fill="#403D24" stroke="#8F8A5A" stroke-width="1"/>
<path d="M471.7,478.2L476.7,483.2L471.7,488.2L466.7,483.2Z" fill="#403D24" stroke="#8F8A5A" stroke-width="1"/>
<path d="M482.1,485.1L487.1,490.1L482.1,495.1L477.1,490.1Z" fill="#403D24" stroke="#8F8A5A" stroke-width="1"/>
<path d="M492.4,484.6L497.4,489.6L492.4,494.6L487.4,489.6Z" fill="#403D24" stroke="#8F8A5A" stroke-width="1"/>
<path d="M502.7,491.1L507.7,496.1L502.7,501.1L497.7,496.1Z" fill="#403D24" stroke="#8F8A5A" stroke-width="1"/>
<path d="M513.0,491.1L518.0,496.1L513.0,501.1L508.0,496.1Z" fill="#403D24" stroke="#8F8A5A" stroke-width="1"/>
<path d="M523.3,488.0L528.3,493.0L523.3,498.0L518.3,493.0Z" fill="#403D24" stroke="#8F8A5A" stroke-width="1"/>
<path d="M533.6,486.7L538.6,491.7L533.6,496.7L528.6,491.7Z" fill="#403D24" stroke="#8F8A5A" stroke-width="1"/>
<path d="M543.9,509.0L548.9,514.0L543.9,519.0L538.9,514.0Z" fill="#403D24" stroke="#8F8A5A" stroke-width="1"/>
<path d="M554.3,500.6L559.3,505.6L554.3,510.6L549.3,505.6Z" fill="#403D24" stroke="#8F8A5A" stroke-width="1"/>
<path d="M564.6,514.2L569.6,519.2L564.6,524.2L559.6,519.2Z" fill="#403D24" stroke="#8F8A5A" stroke-width="1"/>
<path d="M574.9,533.5L579.9,538.5L574.9,543.5L569.9,538.5Z" fill="#403D24" stroke="#8F8A5A" stroke-width="1"/>
<path d="M585.2,518.0L590.2,523.0L585.2,528.0L580.2,523.0Z" fill="#403D24" stroke="#8F8A5A" stroke-width="1"/>
<path d="M595.5,518.0L600.5,523.0L595.5,528.0L590.5,523.0Z" fill="#403D24" stroke="#8F8A5A" stroke-width="1"/>
<polyline points="69.5,514.7 79.8,507.5 90.1,521.5 100.4,529.5 110.7,520.9 121.0,521.9 131.3,530.0 141.7,523.0 152.0,514.8 162.3,523.8 172.6,505.6 182.9,502.3 193.2,513.4 203.6,495.3 213.9,474.6 224.2,455.3 234.5,451.8 244.8,544.2 255.1,463.5 265.4,433.3 275.8,380.5 286.1,350.2 296.4,360.0 306.7,398.8 317.0,414.9" fill="none" stroke="#FF0000" stroke-width="3.3" stroke-linejoin="round" stroke-linecap="round"/>
<path d="M69.5,510.1L74.1,514.7L69.5,519.3L64.9,514.7Z" fill="#FF0000" stroke="#FF0000" stroke-width="0.5"/>
<path d="M79.8,502.9L84.4,507.5L79.8,512.1L75.2,507.5Z" fill="#FF0000" stroke="#FF0000" stroke-width="0.5"/>
<path d="M90.1,516.9L94.7,521.5L90.1,526.1L85.5,521.5Z" fill="#FF0000" stroke="#FF0000" stroke-width="0.5"/>
<path d="M100.4,524.9L105.0,529.5L100.4,534.1L95.8,529.5Z" fill="#FF0000" stroke="#FF0000" stroke-width="0.5"/>
<path d="M110.7,516.3L115.3,520.9L110.7,525.5L106.1,520.9Z" fill="#FF0000" stroke="#FF0000" stroke-width="0.5"/>
<path d="M121.0,517.3L125.6,521.9L121.0,526.5L116.4,521.9Z" fill="#FF0000" stroke="#FF0000" stroke-width="0.5"/>
<path d="M131.3,525.4L135.9,530.0L131.3,534.6L126.7,530.0Z" fill="#FF0000" stroke="#FF0000" stroke-width="0.5"/>
<path d="M141.7,518.4L146.3,523.0L141.7,527.6L137.1,523.0Z" fill="#FF0000" stroke="#FF0000" stroke-width="0.5"/>
<path d="M152.0,510.2L156.6,514.8L152.0,519.4L147.4,514.8Z" fill="#FF0000" stroke="#FF0000" stroke-width="0.5"/>
<path d="M162.3,519.2L166.9,523.8L162.3,528.4L157.7,523.8Z" fill="#FF0000" stroke="#FF0000" stroke-width="0.5"/>
<path d="M172.6,501.0L177.2,505.6L172.6,510.2L168.0,505.6Z" fill="#FF0000" stroke="#FF0000" stroke-width="0.5"/>
<path d="M182.9,497.7L187.5,502.3L182.9,506.9L178.3,502.3Z" fill="#FF0000" stroke="#FF0000" stroke-width="0.5"/>
<path d="M193.2,508.8L197.8,513.4L193.2,518.0L188.6,513.4Z" fill="#FF0000" stroke="#FF0000" stroke-width="0.5"/>
<path d="M203.6,490.7L208.2,495.3L203.6,499.9L199.0,495.3Z" fill="#FF0000" stroke="#FF0000" stroke-width="0.5"/>
<path d="M213.9,470.0L218.5,474.6L213.9,479.2L209.3,474.6Z" fill="#FF0000" stroke="#FF0000" stroke-width="0.5"/>
<path d="M224.2,450.7L228.8,455.3L224.2,459.9L219.6,455.3Z" fill="#FF0000" stroke="#FF0000" stroke-width="0.5"/>
<path d="M234.5,447.2L239.1,451.8L234.5,456.4L229.9,451.8Z" fill="#FF0000" stroke="#FF0000" stroke-width="0.5"/>
<path d="M244.8,539.6L249.4,544.2L244.8,548.8L240.2,544.2Z" fill="#FF0000" stroke="#FF0000" stroke-width="0.5"/>
<path d="M255.1,458.9L259.7,463.5L255.1,468.1L250.5,463.5Z" fill="#FF0000" stroke="#FF0000" stroke-width="0.5"/>
<path d="M265.4,428.7L270.0,433.3L265.4,437.9L260.8,433.3Z" fill="#FF0000" stroke="#FF0000" stroke-width="0.5"/>
<path d="M275.8,375.9L280.4,380.5L275.8,385.1L271.2,380.5Z" fill="#FF0000" stroke="#FF0000" stroke-width="0.5"/>
<path d="M286.1,345.6L290.7,350.2L286.1,354.8L281.5,350.2Z" fill="#FF0000" stroke="#FF0000" stroke-width="0.5"/>
<path d="M296.4,355.4L301.0,360.0L296.4,364.6L291.8,360.0Z" fill="#FF0000" stroke="#FF0000" stroke-width="0.5"/>
<path d="M306.7,394.2L311.3,398.8L306.7,403.4L302.1,398.8Z" fill="#FF0000" stroke="#FF0000" stroke-width="0.5"/>
<path d="M317.0,410.3L321.6,414.9L317.0,419.5L312.4,414.9Z" fill="#FF0000" stroke="#FF0000" stroke-width="0.5"/>
<line x1="479.6" y1="57.9" x2="505.4" y2="57.9" stroke="#A5403D" stroke-width="3.4" stroke-linecap="round"/>
<line x1="488.8" y1="57.9" x2="496.2" y2="57.9" stroke="#A5403D" stroke-width="2.6"/>
<text transform="translate(508.5,61.9) scale(1.1,1)" x="0" y="0" font-size="11.3" fill="#111">2016-17<tspan font-size="12.2">年</tspan></text>
<line x1="479.6" y1="82.0" x2="505.4" y2="82.0" stroke="#8DB255" stroke-width="3.4" stroke-linecap="round"/>
<path d="M492.5,76.5L496.2,85.0L488.8,85.0Z" fill="#8DB255" stroke="#8DB255" stroke-width="0.8"/>
<text transform="translate(508.5,86.0) scale(1.1,1)" x="0" y="0" font-size="11.3" fill="#111">2017-18<tspan font-size="12.2">年</tspan></text>
<line x1="479.6" y1="106.1" x2="505.4" y2="106.1" stroke="#7C61A2" stroke-width="3.4" stroke-linecap="round"/>
<path d="M488.6,102.2L496.4,110.0M496.4,102.2L488.6,110.0" stroke="#7C61A2" stroke-width="1.1" fill="none"/>
<text transform="translate(508.5,110.1) scale(1.1,1)" x="0" y="0" font-size="11.3" fill="#111">2018-19<tspan font-size="12.2">年</tspan></text>
<line x1="479.6" y1="130.2" x2="505.4" y2="130.2" stroke="#7A7A7A" stroke-width="3.4" stroke-linecap="round"/>
<path d="M492.5,127.1L495.6,130.2L492.5,133.3L489.4,130.2Z" fill="#3F4858" stroke="#566070" stroke-width="0.8"/>
<text transform="translate(508.5,134.2) scale(1.1,1)" x="0" y="0" font-size="11.3" fill="#111">2019-20<tspan font-size="12.2">年</tspan></text>
<line x1="479.6" y1="154.3" x2="505.4" y2="154.3" stroke="#1F497D" stroke-width="3.4" stroke-linecap="round"/>
<circle cx="492.5" cy="154.3" r="3.7" fill="#4F81BD" stroke="#2F5282" stroke-width="1"/>
<text transform="translate(508.5,158.3) scale(1.1,1)" x="0" y="0" font-size="11.3" fill="#111">2020-21<tspan font-size="12.2">年</tspan></text>
<line x1="479.6" y1="178.4" x2="505.4" y2="178.4" stroke="#FFC000" stroke-width="3.4" stroke-linecap="round"/>
<path d="M492.5,174.5L496.4,178.4L492.5,182.3L488.6,178.4Z" fill="#FFC000" stroke="#E46C0A" stroke-width="1"/>
<text transform="translate(508.5,182.4) scale(1.1,1)" x="0" y="0" font-size="11.3" fill="#111">2021-22<tspan font-size="12.2">年</tspan></text>
<line x1="479.6" y1="202.5" x2="505.4" y2="202.5" stroke="#E9A3A0" stroke-width="3.4" stroke-linecap="round"/>
<rect x="489.5" y="199.5" width="6.1" height="6.1" fill="#E6B9B8" fill-opacity="0.3" stroke="#FF0000" stroke-width="1.35"/>
<text transform="translate(508.5,206.5) scale(1.1,1)" x="0" y="0" font-size="11.3" fill="#111">2022-23<tspan font-size="12.2">年</tspan></text>
<line x1="479.6" y1="226.6" x2="505.4" y2="226.6" stroke="#7092C0" stroke-width="3.4" stroke-linecap="round"/>
<path d="M492.5,221.1L496.2,229.6L488.8,229.6Z" fill="#4F81BD" stroke="#D99694" stroke-width="0.8"/>
<text transform="translate(508.5,230.6) scale(1.1,1)" x="0" y="0" font-size="11.3" fill="#111">2023-24<tspan font-size="12.2">年</tspan></text>
<line x1="479.6" y1="250.7" x2="505.4" y2="250.7" stroke="#9A966A" stroke-width="3.4" stroke-linecap="round"/>
<path d="M492.5,246.8L496.4,250.7L492.5,254.6L488.6,250.7Z" fill="#403D24" stroke="#8F8A5A" stroke-width="1"/>
<text transform="translate(508.5,254.7) scale(1.1,1)" x="0" y="0" font-size="11.3" fill="#111">2024-25<tspan font-size="12.2">年</tspan></text>
<line x1="479.6" y1="274.8" x2="505.4" y2="274.8" stroke="#FF0000" stroke-width="3.4" stroke-linecap="round"/>
<path d="M492.5,271.2L496.1,274.8L492.5,278.4L488.9,274.8Z" fill="#FF0000" stroke="#FF0000" stroke-width="0.5"/>
<text transform="translate(508.5,278.8) scale(1.1,1)" x="0" y="0" font-size="11.3" fill="#111">2025-26<tspan font-size="12.2">年</tspan></text>
</svg></body></html>
